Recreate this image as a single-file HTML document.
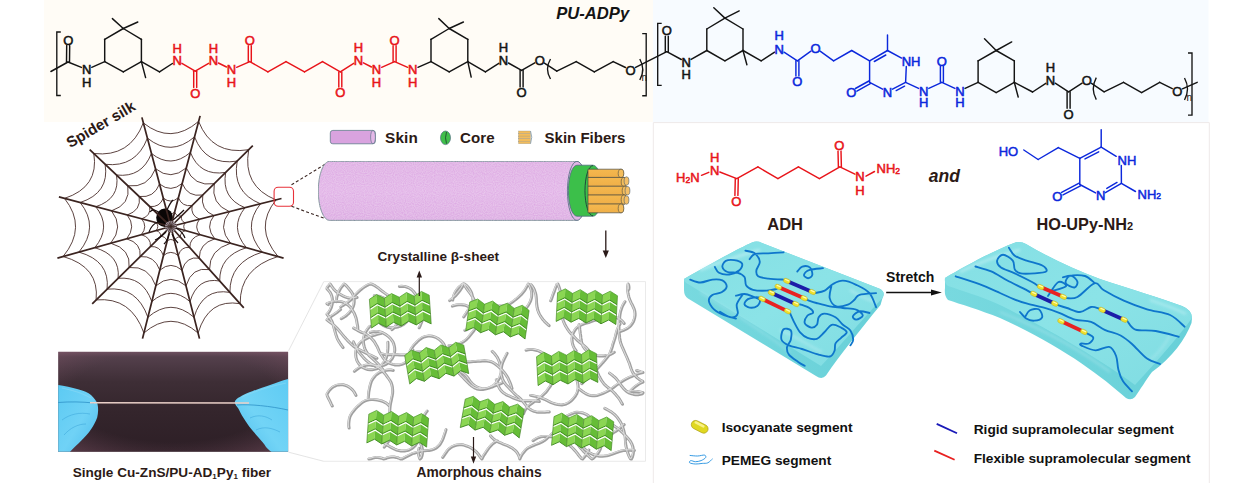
<!DOCTYPE html>
<html><head><meta charset="utf-8"><style>
html,body{margin:0;padding:0;background:#fff;}
body{width:1256px;height:483px;overflow:hidden;position:relative;}
svg{position:absolute;left:0;top:0;font-family:"Liberation Sans", sans-serif;}
</style></head><body>
<svg width="1256" height="483" viewBox="0 0 1256 483">
<rect x="0" y="0" width="1256" height="483" fill="#ffffff"/>
<rect x="44" y="0" width="609" height="122" fill="#fffcf6"/>
<rect x="653" y="0" width="555.5" height="122" fill="#f7fbff"/>
<path d="M653.3,483 V122.6 H1209.3 V483" fill="none" stroke="#eee9e9" stroke-width="1"/>
<path d="M60.8,32 H56.8 V95.5 H60.8" fill="none" stroke="#141414" stroke-width="1.35"/>
<line x1="104.7" y1="61.6" x2="104.7" y2="39.3" stroke="#141414" stroke-width="1.45" stroke-linecap="round" />
<line x1="104.7" y1="39.3" x2="123.3" y2="28.5" stroke="#141414" stroke-width="1.45" stroke-linecap="round" />
<line x1="123.3" y1="28.5" x2="141.4" y2="39.3" stroke="#141414" stroke-width="1.45" stroke-linecap="round" />
<line x1="141.4" y1="39.3" x2="141.4" y2="61.6" stroke="#141414" stroke-width="1.45" stroke-linecap="round" />
<line x1="141.4" y1="61.6" x2="123.3" y2="71.9" stroke="#141414" stroke-width="1.45" stroke-linecap="round" />
<line x1="123.3" y1="71.9" x2="104.7" y2="61.6" stroke="#141414" stroke-width="1.45" stroke-linecap="round" />
<line x1="431" y1="61.6" x2="431" y2="39.3" stroke="#141414" stroke-width="1.45" stroke-linecap="round" />
<line x1="431" y1="39.3" x2="449.2" y2="28.5" stroke="#141414" stroke-width="1.45" stroke-linecap="round" />
<line x1="449.2" y1="28.5" x2="467.8" y2="39.3" stroke="#141414" stroke-width="1.45" stroke-linecap="round" />
<line x1="467.8" y1="39.3" x2="467.8" y2="61.6" stroke="#141414" stroke-width="1.45" stroke-linecap="round" />
<line x1="467.8" y1="61.6" x2="449.2" y2="71.9" stroke="#141414" stroke-width="1.45" stroke-linecap="round" />
<line x1="449.2" y1="71.9" x2="431" y2="61.6" stroke="#141414" stroke-width="1.45" stroke-linecap="round" />
<line x1="706.8" y1="50.5" x2="706.8" y2="29" stroke="#141414" stroke-width="1.45" stroke-linecap="round" />
<line x1="706.8" y1="29" x2="724.9" y2="18.1" stroke="#141414" stroke-width="1.45" stroke-linecap="round" />
<line x1="724.9" y1="18.1" x2="743" y2="29" stroke="#141414" stroke-width="1.45" stroke-linecap="round" />
<line x1="743" y1="29" x2="743" y2="50.5" stroke="#141414" stroke-width="1.45" stroke-linecap="round" />
<line x1="743" y1="50.5" x2="724.9" y2="60.8" stroke="#141414" stroke-width="1.45" stroke-linecap="round" />
<line x1="724.9" y1="60.8" x2="706.8" y2="50.5" stroke="#141414" stroke-width="1.45" stroke-linecap="round" />
<line x1="978.1" y1="82.3" x2="978.1" y2="60.8" stroke="#141414" stroke-width="1.45" stroke-linecap="round" />
<line x1="978.1" y1="60.8" x2="996.2" y2="50.5" stroke="#141414" stroke-width="1.45" stroke-linecap="round" />
<line x1="996.2" y1="50.5" x2="1014.3" y2="60.8" stroke="#141414" stroke-width="1.45" stroke-linecap="round" />
<line x1="1014.3" y1="60.8" x2="1014.3" y2="82.3" stroke="#141414" stroke-width="1.45" stroke-linecap="round" />
<line x1="1014.3" y1="82.3" x2="996.2" y2="92.6" stroke="#141414" stroke-width="1.45" stroke-linecap="round" />
<line x1="996.2" y1="92.6" x2="978.1" y2="82.3" stroke="#141414" stroke-width="1.45" stroke-linecap="round" />
<line x1="50.9" y1="71.5" x2="68" y2="62" stroke="#141414" stroke-width="1.45" stroke-linecap="round" />
<line x1="69.5" y1="62" x2="69.7" y2="45.6" stroke="#141414" stroke-width="1.45" stroke-linecap="round" />
<line x1="66.5" y1="62" x2="66.7" y2="45.6" stroke="#141414" stroke-width="1.45" stroke-linecap="round" />
<line x1="68" y1="62" x2="81.4" y2="67.4" stroke="#141414" stroke-width="1.45" stroke-linecap="round" />
<line x1="91.7" y1="67.3" x2="104.7" y2="61.6" stroke="#141414" stroke-width="1.45" stroke-linecap="round" />
<line x1="123.3" y1="28.5" x2="112.4" y2="18.6" stroke="#141414" stroke-width="1.45" stroke-linecap="round" />
<line x1="123.3" y1="28.5" x2="137.8" y2="22" stroke="#141414" stroke-width="1.45" stroke-linecap="round" />
<line x1="141.4" y1="61.6" x2="145.6" y2="77.6" stroke="#141414" stroke-width="1.45" stroke-linecap="round" />
<line x1="141.4" y1="61.6" x2="159.5" y2="71.9" stroke="#141414" stroke-width="1.45" stroke-linecap="round" />
<line x1="159.5" y1="71.9" x2="172.4" y2="63.5" stroke="#141414" stroke-width="1.45" stroke-linecap="round" />
<line x1="181.9" y1="63.3" x2="195.2" y2="71.2" stroke="#e8141a" stroke-width="1.45" stroke-linecap="round" />
<line x1="193.7" y1="71.2" x2="193.7" y2="87.4" stroke="#e8141a" stroke-width="1.45" stroke-linecap="round" />
<line x1="196.7" y1="71.2" x2="196.7" y2="87.4" stroke="#e8141a" stroke-width="1.45" stroke-linecap="round" />
<line x1="195.2" y1="71.2" x2="208.6" y2="63.3" stroke="#e8141a" stroke-width="1.45" stroke-linecap="round" />
<line x1="218.4" y1="63" x2="226.5" y2="67" stroke="#e8141a" stroke-width="1.45" stroke-linecap="round" />
<line x1="236.6" y1="67.3" x2="249.8" y2="61.6" stroke="#e8141a" stroke-width="1.45" stroke-linecap="round" />
<line x1="251.3" y1="61.6" x2="251.3" y2="45.7" stroke="#e8141a" stroke-width="1.45" stroke-linecap="round" />
<line x1="248.3" y1="61.6" x2="248.3" y2="45.7" stroke="#e8141a" stroke-width="1.45" stroke-linecap="round" />
<line x1="249.8" y1="61.6" x2="267.9" y2="71.9" stroke="#e8141a" stroke-width="1.45" stroke-linecap="round" />
<line x1="267.9" y1="71.9" x2="286" y2="61.6" stroke="#e8141a" stroke-width="1.45" stroke-linecap="round" />
<line x1="286" y1="61.6" x2="304.5" y2="71.9" stroke="#e8141a" stroke-width="1.45" stroke-linecap="round" />
<line x1="304.5" y1="71.9" x2="322.5" y2="61.6" stroke="#e8141a" stroke-width="1.45" stroke-linecap="round" />
<line x1="322.5" y1="61.6" x2="340.3" y2="71.9" stroke="#e8141a" stroke-width="1.45" stroke-linecap="round" />
<line x1="338.8" y1="71.9" x2="338.8" y2="87" stroke="#e8141a" stroke-width="1.45" stroke-linecap="round" />
<line x1="341.8" y1="71.9" x2="341.8" y2="87" stroke="#e8141a" stroke-width="1.45" stroke-linecap="round" />
<line x1="340.3" y1="71.9" x2="353.7" y2="63.3" stroke="#e8141a" stroke-width="1.45" stroke-linecap="round" />
<line x1="363.4" y1="62.8" x2="371.5" y2="67" stroke="#e8141a" stroke-width="1.45" stroke-linecap="round" />
<line x1="381.6" y1="67.3" x2="394.6" y2="61.6" stroke="#e8141a" stroke-width="1.45" stroke-linecap="round" />
<line x1="396.1" y1="61.6" x2="396.1" y2="45.7" stroke="#e8141a" stroke-width="1.45" stroke-linecap="round" />
<line x1="393.1" y1="61.6" x2="393.1" y2="45.7" stroke="#e8141a" stroke-width="1.45" stroke-linecap="round" />
<line x1="394.6" y1="61.6" x2="407.7" y2="67.3" stroke="#e8141a" stroke-width="1.45" stroke-linecap="round" />
<line x1="417.9" y1="67.3" x2="431" y2="61.6" stroke="#141414" stroke-width="1.45" stroke-linecap="round" />
<line x1="449.2" y1="28.5" x2="438.8" y2="18.6" stroke="#141414" stroke-width="1.45" stroke-linecap="round" />
<line x1="449.2" y1="28.5" x2="463.4" y2="22" stroke="#141414" stroke-width="1.45" stroke-linecap="round" />
<line x1="467.8" y1="61.6" x2="471.2" y2="77.1" stroke="#141414" stroke-width="1.45" stroke-linecap="round" />
<line x1="467.8" y1="61.6" x2="485.4" y2="71.9" stroke="#141414" stroke-width="1.45" stroke-linecap="round" />
<line x1="485.4" y1="71.9" x2="498.8" y2="63.3" stroke="#141414" stroke-width="1.45" stroke-linecap="round" />
<line x1="508.4" y1="63" x2="521.6" y2="70.4" stroke="#141414" stroke-width="1.45" stroke-linecap="round" />
<line x1="520.1" y1="70.4" x2="520.1" y2="87" stroke="#141414" stroke-width="1.45" stroke-linecap="round" />
<line x1="523.1" y1="70.4" x2="523.1" y2="87" stroke="#141414" stroke-width="1.45" stroke-linecap="round" />
<line x1="521.6" y1="70.4" x2="534.8" y2="62.8" stroke="#141414" stroke-width="1.45" stroke-linecap="round" />
<line x1="544.4" y1="63.1" x2="556.8" y2="71.2" stroke="#141414" stroke-width="1.45" stroke-linecap="round" />
<line x1="556.8" y1="71.2" x2="576.2" y2="61.6" stroke="#141414" stroke-width="1.45" stroke-linecap="round" />
<line x1="576.2" y1="61.6" x2="594.3" y2="71.9" stroke="#141414" stroke-width="1.45" stroke-linecap="round" />
<line x1="594.3" y1="71.9" x2="613.2" y2="61.6" stroke="#141414" stroke-width="1.45" stroke-linecap="round" />
<line x1="613.2" y1="61.6" x2="625.5" y2="67.5" stroke="#141414" stroke-width="1.45" stroke-linecap="round" />
<line x1="635.6" y1="67.4" x2="666.8" y2="51.7" stroke="#141414" stroke-width="1.45" stroke-linecap="round" />
<line x1="668.3" y1="51.7" x2="668.3" y2="36.1" stroke="#141414" stroke-width="1.45" stroke-linecap="round" />
<line x1="665.3" y1="51.7" x2="665.3" y2="36.1" stroke="#141414" stroke-width="1.45" stroke-linecap="round" />
<line x1="666.8" y1="51.7" x2="681.3" y2="59.5" stroke="#141414" stroke-width="1.45" stroke-linecap="round" />
<line x1="691.1" y1="59.4" x2="706.8" y2="50.5" stroke="#141414" stroke-width="1.45" stroke-linecap="round" />
<line x1="724.9" y1="18.1" x2="713.8" y2="7.8" stroke="#141414" stroke-width="1.45" stroke-linecap="round" />
<line x1="724.9" y1="18.1" x2="739.2" y2="10.9" stroke="#141414" stroke-width="1.45" stroke-linecap="round" />
<line x1="743" y1="50.5" x2="746.9" y2="64.7" stroke="#141414" stroke-width="1.45" stroke-linecap="round" />
<line x1="743" y1="50.5" x2="761.2" y2="60.8" stroke="#141414" stroke-width="1.45" stroke-linecap="round" />
<line x1="761.2" y1="60.8" x2="774.6" y2="52.2" stroke="#141414" stroke-width="1.45" stroke-linecap="round" />
<line x1="784" y1="52.2" x2="797.4" y2="60.8" stroke="#0c28dc" stroke-width="1.45" stroke-linecap="round" />
<line x1="795.9" y1="60.8" x2="795.9" y2="75.9" stroke="#0c28dc" stroke-width="1.45" stroke-linecap="round" />
<line x1="798.9" y1="60.8" x2="798.9" y2="75.9" stroke="#0c28dc" stroke-width="1.45" stroke-linecap="round" />
<line x1="797.4" y1="60.8" x2="810.9" y2="51.2" stroke="#0c28dc" stroke-width="1.45" stroke-linecap="round" />
<line x1="820.1" y1="51.2" x2="833.6" y2="60.8" stroke="#0c28dc" stroke-width="1.45" stroke-linecap="round" />
<line x1="833.6" y1="60.8" x2="851.7" y2="50.5" stroke="#0c28dc" stroke-width="1.45" stroke-linecap="round" />
<line x1="851.7" y1="50.5" x2="869.6" y2="60.8" stroke="#0c28dc" stroke-width="1.45" stroke-linecap="round" />
<line x1="869.6" y1="60.8" x2="887.5" y2="50.5" stroke="#0c28dc" stroke-width="1.45" stroke-linecap="round" />
<line x1="874.3" y1="61.5" x2="885.8" y2="55" stroke="#0c28dc" stroke-width="1.45" stroke-linecap="round" />
<line x1="887.5" y1="50.5" x2="887.5" y2="34.9" stroke="#0c28dc" stroke-width="1.45" stroke-linecap="round" />
<line x1="887.5" y1="50.5" x2="901.6" y2="58.1" stroke="#0c28dc" stroke-width="1.45" stroke-linecap="round" />
<line x1="906.3" y1="66.4" x2="905.6" y2="82.3" stroke="#0c28dc" stroke-width="1.45" stroke-linecap="round" />
<line x1="905.6" y1="82.3" x2="892.5" y2="89.2" stroke="#0c28dc" stroke-width="1.45" stroke-linecap="round" />
<line x1="904.6" y1="86.2" x2="896.2" y2="90.6" stroke="#0c28dc" stroke-width="1.45" stroke-linecap="round" />
<line x1="882.6" y1="89.2" x2="869.6" y2="82.3" stroke="#0c28dc" stroke-width="1.45" stroke-linecap="round" />
<line x1="869.6" y1="82.3" x2="869.6" y2="60.8" stroke="#0c28dc" stroke-width="1.45" stroke-linecap="round" />
<line x1="868.9" y1="81" x2="855.4" y2="88.5" stroke="#0c28dc" stroke-width="1.45" stroke-linecap="round" />
<line x1="870.3" y1="83.6" x2="856.9" y2="91.2" stroke="#0c28dc" stroke-width="1.45" stroke-linecap="round" />
<line x1="905.6" y1="82.3" x2="918.6" y2="88.4" stroke="#0c28dc" stroke-width="1.45" stroke-linecap="round" />
<line x1="928.8" y1="88.4" x2="941.9" y2="82.3" stroke="#0c28dc" stroke-width="1.45" stroke-linecap="round" />
<line x1="943.4" y1="82.3" x2="943.4" y2="66.4" stroke="#0c28dc" stroke-width="1.45" stroke-linecap="round" />
<line x1="940.4" y1="82.3" x2="940.4" y2="66.4" stroke="#0c28dc" stroke-width="1.45" stroke-linecap="round" />
<line x1="941.9" y1="82.3" x2="954.9" y2="88.4" stroke="#0c28dc" stroke-width="1.45" stroke-linecap="round" />
<line x1="965.1" y1="88.4" x2="978.1" y2="82.3" stroke="#141414" stroke-width="1.45" stroke-linecap="round" />
<line x1="996.2" y1="50.5" x2="984.5" y2="38.8" stroke="#141414" stroke-width="1.45" stroke-linecap="round" />
<line x1="996.2" y1="50.5" x2="1011.7" y2="41.9" stroke="#141414" stroke-width="1.45" stroke-linecap="round" />
<line x1="1014.3" y1="82.3" x2="1018.2" y2="97" stroke="#141414" stroke-width="1.45" stroke-linecap="round" />
<line x1="1014.3" y1="82.3" x2="1032.6" y2="92" stroke="#141414" stroke-width="1.45" stroke-linecap="round" />
<line x1="1032.6" y1="92" x2="1045.8" y2="83.3" stroke="#141414" stroke-width="1.45" stroke-linecap="round" />
<line x1="1055.2" y1="83.2" x2="1068.6" y2="91.8" stroke="#141414" stroke-width="1.45" stroke-linecap="round" />
<line x1="1067.1" y1="91.8" x2="1067.1" y2="108.2" stroke="#141414" stroke-width="1.45" stroke-linecap="round" />
<line x1="1070.1" y1="91.8" x2="1070.1" y2="108.2" stroke="#141414" stroke-width="1.45" stroke-linecap="round" />
<line x1="1068.6" y1="91.8" x2="1082.1" y2="83.2" stroke="#141414" stroke-width="1.45" stroke-linecap="round" />
<line x1="1091.5" y1="83.3" x2="1104.1" y2="91.8" stroke="#141414" stroke-width="1.45" stroke-linecap="round" />
<line x1="1104.1" y1="91.8" x2="1123.5" y2="82.3" stroke="#141414" stroke-width="1.45" stroke-linecap="round" />
<line x1="1123.5" y1="82.3" x2="1141.6" y2="92.6" stroke="#141414" stroke-width="1.45" stroke-linecap="round" />
<line x1="1141.6" y1="92.6" x2="1159.7" y2="82.3" stroke="#141414" stroke-width="1.45" stroke-linecap="round" />
<line x1="1159.7" y1="82.3" x2="1172.3" y2="88.6" stroke="#141414" stroke-width="1.45" stroke-linecap="round" />
<line x1="1182.4" y1="88.8" x2="1197.2" y2="82.3" stroke="#141414" stroke-width="1.45" stroke-linecap="round" />
<text x="68.3" y="44.7" font-size="13" fill="#141414" font-weight="normal" font-style="normal" text-anchor="middle" stroke="#141414" stroke-width="0.55">O</text>
<text x="86.6" y="74.2" font-size="13" fill="#141414" font-weight="normal" font-style="normal" text-anchor="middle" stroke="#141414" stroke-width="0.55">N</text>
<text x="86.6" y="86.7" font-size="13" fill="#141414" font-weight="normal" font-style="normal" text-anchor="middle" stroke="#141414" stroke-width="0.55">H</text>
<text x="177.1" y="65.2" font-size="13" fill="#e8141a" font-weight="normal" font-style="normal" text-anchor="middle" stroke="#e8141a" stroke-width="0.55">N</text>
<text x="177.1" y="52.6" font-size="13" fill="#e8141a" font-weight="normal" font-style="normal" text-anchor="middle" stroke="#e8141a" stroke-width="0.55">H</text>
<text x="195.2" y="97.7" font-size="13" fill="#e8141a" font-weight="normal" font-style="normal" text-anchor="middle" stroke="#e8141a" stroke-width="0.55">O</text>
<text x="213.4" y="65.2" font-size="13" fill="#e8141a" font-weight="normal" font-style="normal" text-anchor="middle" stroke="#e8141a" stroke-width="0.55">N</text>
<text x="213.4" y="52.6" font-size="13" fill="#e8141a" font-weight="normal" font-style="normal" text-anchor="middle" stroke="#e8141a" stroke-width="0.55">H</text>
<text x="231.5" y="74.2" font-size="13" fill="#e8141a" font-weight="normal" font-style="normal" text-anchor="middle" stroke="#e8141a" stroke-width="0.55">N</text>
<text x="231.5" y="86.7" font-size="13" fill="#e8141a" font-weight="normal" font-style="normal" text-anchor="middle" stroke="#e8141a" stroke-width="0.55">H</text>
<text x="249.8" y="44.8" font-size="13" fill="#e8141a" font-weight="normal" font-style="normal" text-anchor="middle" stroke="#e8141a" stroke-width="0.55">O</text>
<text x="340.3" y="97.3" font-size="13" fill="#e8141a" font-weight="normal" font-style="normal" text-anchor="middle" stroke="#e8141a" stroke-width="0.55">O</text>
<text x="358.4" y="65" font-size="13" fill="#e8141a" font-weight="normal" font-style="normal" text-anchor="middle" stroke="#e8141a" stroke-width="0.55">N</text>
<text x="358.4" y="52.2" font-size="13" fill="#e8141a" font-weight="normal" font-style="normal" text-anchor="middle" stroke="#e8141a" stroke-width="0.55">H</text>
<text x="376.5" y="74.2" font-size="13" fill="#e8141a" font-weight="normal" font-style="normal" text-anchor="middle" stroke="#e8141a" stroke-width="0.55">N</text>
<text x="376.5" y="86.5" font-size="13" fill="#e8141a" font-weight="normal" font-style="normal" text-anchor="middle" stroke="#e8141a" stroke-width="0.55">H</text>
<text x="394.6" y="44.8" font-size="13" fill="#e8141a" font-weight="normal" font-style="normal" text-anchor="middle" stroke="#e8141a" stroke-width="0.55">O</text>
<text x="412.8" y="74.2" font-size="13" fill="#e8141a" font-weight="normal" font-style="normal" text-anchor="middle" stroke="#e8141a" stroke-width="0.55">N</text>
<text x="412.8" y="86.5" font-size="13" fill="#e8141a" font-weight="normal" font-style="normal" text-anchor="middle" stroke="#e8141a" stroke-width="0.55">H</text>
<text x="503.5" y="65" font-size="13" fill="#141414" font-weight="normal" font-style="normal" text-anchor="middle" stroke="#141414" stroke-width="0.55">N</text>
<text x="503.5" y="52" font-size="13" fill="#141414" font-weight="normal" font-style="normal" text-anchor="middle" stroke="#141414" stroke-width="0.55">H</text>
<text x="521.6" y="97.3" font-size="13" fill="#141414" font-weight="normal" font-style="normal" text-anchor="middle" stroke="#141414" stroke-width="0.55">O</text>
<text x="539.7" y="64.7" font-size="13" fill="#141414" font-weight="normal" font-style="normal" text-anchor="middle" stroke="#141414" stroke-width="0.55">O</text>
<text x="630.6" y="74.6" font-size="13" fill="#141414" font-weight="normal" font-style="normal" text-anchor="middle" stroke="#141414" stroke-width="0.55">O</text>
<text x="666.8" y="35.2" font-size="13" fill="#141414" font-weight="normal" font-style="normal" text-anchor="middle" stroke="#141414" stroke-width="0.55">O</text>
<text x="686.2" y="66.8" font-size="13" fill="#141414" font-weight="normal" font-style="normal" text-anchor="middle" stroke="#141414" stroke-width="0.55">N</text>
<text x="686.2" y="78.6" font-size="13" fill="#141414" font-weight="normal" font-style="normal" text-anchor="middle" stroke="#141414" stroke-width="0.55">H</text>
<text x="779.3" y="53.9" font-size="13" fill="#0c28dc" font-weight="normal" font-style="normal" text-anchor="middle" stroke="#0c28dc" stroke-width="0.55">N</text>
<text x="779.3" y="40.3" font-size="13" fill="#0c28dc" font-weight="normal" font-style="normal" text-anchor="middle" stroke="#0c28dc" stroke-width="0.55">H</text>
<text x="797.4" y="86.2" font-size="13" fill="#0c28dc" font-weight="normal" font-style="normal" text-anchor="middle" stroke="#0c28dc" stroke-width="0.55">O</text>
<text x="815.5" y="52.6" font-size="13" fill="#0c28dc" font-weight="normal" font-style="normal" text-anchor="middle" stroke="#0c28dc" stroke-width="0.55">O</text>
<text x="906.5" y="65.5" font-size="13" fill="#0c28dc" font-weight="normal" font-style="normal" text-anchor="middle" stroke="#0c28dc" stroke-width="0.55">N</text>
<text x="887.5" y="96.5" font-size="13" fill="#0c28dc" font-weight="normal" font-style="normal" text-anchor="middle" stroke="#0c28dc" stroke-width="0.55">N</text>
<text x="851.3" y="97.3" font-size="13" fill="#0c28dc" font-weight="normal" font-style="normal" text-anchor="middle" stroke="#0c28dc" stroke-width="0.55">O</text>
<text x="923.7" y="95.5" font-size="13" fill="#0c28dc" font-weight="normal" font-style="normal" text-anchor="middle" stroke="#0c28dc" stroke-width="0.55">N</text>
<text x="923.7" y="107.3" font-size="13" fill="#0c28dc" font-weight="normal" font-style="normal" text-anchor="middle" stroke="#0c28dc" stroke-width="0.55">H</text>
<text x="941.9" y="65.5" font-size="13" fill="#0c28dc" font-weight="normal" font-style="normal" text-anchor="middle" stroke="#0c28dc" stroke-width="0.55">O</text>
<text x="960" y="95.5" font-size="13" fill="#0c28dc" font-weight="normal" font-style="normal" text-anchor="middle" stroke="#0c28dc" stroke-width="0.55">N</text>
<text x="960" y="107.3" font-size="13" fill="#0c28dc" font-weight="normal" font-style="normal" text-anchor="middle" stroke="#0c28dc" stroke-width="0.55">H</text>
<text x="1050.5" y="84.9" font-size="13" fill="#141414" font-weight="normal" font-style="normal" text-anchor="middle" stroke="#141414" stroke-width="0.55">N</text>
<text x="1050.5" y="72.2" font-size="13" fill="#141414" font-weight="normal" font-style="normal" text-anchor="middle" stroke="#141414" stroke-width="0.55">H</text>
<text x="1068.6" y="118.5" font-size="13" fill="#141414" font-weight="normal" font-style="normal" text-anchor="middle" stroke="#141414" stroke-width="0.55">O</text>
<text x="1086.8" y="84.9" font-size="13" fill="#141414" font-weight="normal" font-style="normal" text-anchor="middle" stroke="#141414" stroke-width="0.55">O</text>
<text x="1177.3" y="95.8" font-size="13" fill="#141414" font-weight="normal" font-style="normal" text-anchor="middle" stroke="#141414" stroke-width="0.55">O</text>
<text x="915.8" y="65.5" font-size="13" fill="#0c28dc" font-weight="normal" font-style="normal" text-anchor="middle" stroke="#0c28dc" stroke-width="0.55">H</text>
<path d="M550.5,59 Q544.5,69 550.5,79" fill="none" stroke="#141414" stroke-width="1.35"/>
<path d="M639.8,59 Q645.8,69.5 639.8,80" fill="none" stroke="#141414" stroke-width="1.35"/>
<text x="644.3" y="80.5" font-size="10" fill="#141414" font-weight="normal" font-style="normal" text-anchor="middle" >n</text>
<path d="M642.2,33.6 H646.2 V95.7 H642.2" fill="none" stroke="#141414" stroke-width="1.35"/>
<path d="M661.7,23.3 H657.7 V85.4 H661.7" fill="none" stroke="#141414" stroke-width="1.35"/>
<path d="M1096.3,77.6 Q1090.3,88.6 1096.3,99.6" fill="none" stroke="#141414" stroke-width="1.35"/>
<path d="M1184.5,78 Q1190.5,89 1184.5,100" fill="none" stroke="#141414" stroke-width="1.35"/>
<text x="1189.3" y="101" font-size="10" fill="#141414" font-weight="normal" font-style="normal" text-anchor="middle" >n</text>
<path d="M1188,53 H1192 V115.1 H1188" fill="none" stroke="#141414" stroke-width="1.35"/>
<text x="556.3" y="19.2" font-size="16.6" fill="#141414" font-weight="bold" font-style="italic" text-anchor="start" >PU-ADPy</text>
<path d="M167,212.3 Q170.8,215.4 174.6,212.1 M163.3,198.1 Q170.8,204.2 178.4,197.7 M159.5,184 Q170.9,193.1 182.2,183.4 M155.5,168.7 Q170.9,181.1 186.3,167.9 M151.4,153.4 Q170.9,169.1 190.4,152.4 M147.4,138.1 Q170.9,157.1 194.5,136.9 M143.3,122.9 Q170.9,145.1 198.6,121.4 M174.6,212.1 Q176.4,216.8 181.5,216 M178.4,197.7 Q182.1,207.1 192.1,205.5 M182.2,183.4 Q187.7,197.4 202.8,195 M186.3,167.9 Q193.8,186.9 214.3,183.7 M190.4,152.4 Q199.9,176.5 225.7,172.4 M194.5,136.9 Q206,166 237.2,161.1 M198.6,121.4 Q212,155.6 248.7,149.7 M181.5,216 Q180.6,221 185.2,222.9 M192.1,205.5 Q190.3,215.5 199.6,219.2 M202.8,195 Q200.1,210 214,215.6 M214.3,183.7 Q210.6,204 229.5,211.7 M225.7,172.4 Q221.2,198.1 245,207.7 M237.2,161.1 Q231.7,192.1 260.5,203.8 M248.7,149.7 Q242.2,186.2 276,199.9 M185.2,222.9 Q182.1,226.7 185.5,230.6 M199.6,219.2 Q193.5,226.9 200.1,234.7 M214,215.6 Q204.8,227 214.8,238.8 M229.5,211.7 Q217,227.2 230.6,243.2 M245,207.7 Q229.2,227.4 246.4,247.7 M260.5,203.8 Q241.4,227.6 262.2,252.1 M276,199.9 Q253.6,227.8 278,256.5 M185.5,230.6 Q180.2,232.2 180.3,237.1 M200.1,234.7 Q189.6,237.9 189.8,247.6 M214.8,238.8 Q199.1,243.7 199.3,258.2 M230.6,243.2 Q209.2,249.8 209.5,269.6 M246.4,247.7 Q219.3,256 219.7,281 M262.2,252.1 Q229.5,262.2 229.9,292.4 M278,256.5 Q239.6,268.3 240.2,303.7 M180.3,237.1 Q176,236.3 174.5,241.1 M189.8,247.6 Q181.1,246.1 178.3,255.6 M199.3,258.2 Q186.3,255.9 182,270.2 M209.5,269.6 Q191.8,266.5 186,285.9 M219.7,281 Q197.4,277 190,301.6 M229.9,292.4 Q202.9,287.6 194,317.3 M240.2,303.7 Q208.5,298.2 198.1,333 M174.5,241.1 Q170.8,237.9 167.1,241.1 M178.3,255.6 Q170.8,249.2 163.4,255.6 M182,270.2 Q170.9,260.6 159.8,270.2 M186,285.9 Q170.9,272.8 155.8,285.9 M190,301.6 Q170.9,285.1 151.8,301.6 M194,317.3 Q170.9,297.3 147.9,317.3 M198.1,333 Q170.9,309.6 143.9,333 M167.1,241.1 Q165.4,236.1 160.6,236.5 M163.4,255.6 Q160,245.7 150.4,246.6 M159.8,270.2 Q154.5,255.3 140.1,256.6 M155.8,285.9 Q148.7,265.6 129.1,267.5 M151.8,301.6 Q142.9,276 118.1,278.3 M147.9,317.3 Q137,286.3 107.1,289.1 M143.9,333 Q131.2,296.7 96.1,299.9 M160.6,236.5 Q161.1,232 156.1,230.6 M150.4,246.6 Q151.3,237.5 141.3,234.7 M140.1,256.6 Q141.6,243.1 126.6,238.8 M129.1,267.5 Q131.1,249 110.7,243.2 M118.1,278.3 Q120.6,255 94.8,247.7 M107.1,289.1 Q110.1,260.9 78.9,252.1 M96.1,299.9 Q99.7,266.8 63.1,256.5 M156.1,230.6 Q159.4,226.6 156.3,222.7 M141.3,234.7 Q148,226.7 141.7,218.8 M126.6,238.8 Q136.5,226.8 127.2,215 M110.7,243.2 Q124.2,226.9 111.5,210.8 M94.8,247.7 Q111.9,227 95.8,206.7 M78.9,252.1 Q99.6,227.1 80.2,202.5 M63.1,256.5 Q87.3,227.2 64.5,198.4 M156.3,222.7 Q161,221.1 160.3,216.5 M141.7,218.8 Q151.2,215.7 149.7,206.5 M127.2,215 Q141.4,210.3 139.2,196.5 M111.5,210.8 Q130.9,204.5 127.8,185.8 M95.8,206.7 Q120.4,198.7 116.5,175 M80.2,202.5 Q109.8,192.9 105.1,164.3 M64.5,198.4 Q99.3,187.1 93.8,153.5 M160.3,216.5 Q165.2,217.1 167,212.3 M149.7,206.5 Q159.6,207.6 163.3,198.1 M139.2,196.5 Q154.1,198.2 159.5,184 M127.8,185.8 Q148.1,188.1 155.5,168.7 M116.5,175 Q142.1,177.9 151.4,153.4 M105.1,164.3 Q136.1,167.8 147.4,138.1 M93.8,153.5 Q130,157.6 143.3,122.9" fill="none" stroke="#4a2e2a" stroke-width="0.9"/>
<ellipse cx="164.6" cy="217.8" rx="8.4" ry="9.2" fill="#0a0606"/>
<path d="M170.8,226.5 L141.9,117.4 M170.8,226.5 L200.1,115.9 M170.8,226.5 L252.8,145.7 M170.8,226.5 L281.5,198.5 M170.8,226.5 L283.6,258.1 M170.8,226.5 L243.8,307.8 M170.8,226.5 L199.5,338.6 M170.8,226.5 L142.5,338.6 M170.8,226.5 L92.2,303.8 M170.8,226.5 L57.4,258.1 M170.8,226.5 L58.9,196.9 M170.8,226.5 L89.7,149.7" fill="none" stroke="#3b2420" stroke-width="1.75"/>
<circle cx="170.8" cy="226.5" r="5.8" fill="#a89ca6"/>
<path d="M170.8,226.5 L176.8,226.5 M170.8,226.5 L176.3,228.8 M170.8,226.5 L175,230.7 M170.8,226.5 L173.1,232 M170.8,226.5 L170.8,232.5 M170.8,226.5 L168.5,232 M170.8,226.5 L166.6,230.7 M170.8,226.5 L165.3,228.8 M170.8,226.5 L164.8,226.5 M170.8,226.5 L165.3,224.2 M170.8,226.5 L166.6,222.3 M170.8,226.5 L168.5,221 M170.8,226.5 L170.8,220.5 M170.8,226.5 L173.1,221 M170.8,226.5 L175,222.3 M170.8,226.5 L176.3,224.2" fill="none" stroke="#3a2622" stroke-width="0.8"/>
<path d="M160,214 Q154,207 150,212 M158,222 Q152,224 149,232 M166,232 Q160,238 155,240 M173,220 Q180,214 184,210 M176,228 Q183,232 185,238 M172,234 Q175,240 178,243 M167,210 Q170,203 173,200 M169,234 Q168,240 164,244" fill="none" stroke="#1a0e0e" stroke-width="1.2"/>
<text x="70.3" y="148.3" font-size="15.2" font-weight="bold" fill="#2c1a16" transform="rotate(-30.5 70.3 148.3)">Spider silk</text>
<rect x="274.1" y="187.3" width="19.4" height="19" rx="4" fill="none" stroke="#e8323a" stroke-width="1.1"/>
<path d="M291.5,184.8 L325.4,164.1 M291.5,206.3 L325.4,218.7" fill="none" stroke="#3a2622" stroke-width="1.1" stroke-dasharray="3,2.2"/>
<defs>
<linearGradient id="pinkg" x1="0" y1="0" x2="0" y2="1">
<stop offset="0" stop-color="#da9fe0"/><stop offset="0.5" stop-color="#dea6e4"/><stop offset="1" stop-color="#d89ddf"/></linearGradient>
<linearGradient id="oranges" x1="0" y1="0" x2="0" y2="1">
<stop offset="0" stop-color="#f5b84e"/><stop offset="1" stop-color="#efaf48"/></linearGradient>
<filter id="noise" x="0" y="0" width="100%" height="100%">
<feTurbulence type="fractalNoise" baseFrequency="0.9" numOctaves="1" seed="3" result="n"/>
<feColorMatrix in="n" type="matrix" values="0 0 0 0 1  0 0 0 0 1  0 0 0 0 1  0 0 0 0.4 0" result="w"/>
<feComposite in="w" in2="SourceGraphic" operator="in" result="wn"/>
<feMerge><feMergeNode in="SourceGraphic"/><feMergeNode in="wn"/></feMerge>
</filter>
</defs>
<path d="M329.6,161.3 L576.5,161.3 A10,29.5 0 0 1 576.5,220.4 L329.6,220.4 A11.3,29.5 0 0 1 329.6,161.3 Z" fill="url(#pinkg)" stroke="#4d6f7c" stroke-width="0.9" filter="url(#noise)"/>
<ellipse cx="577" cy="190.9" rx="9.6" ry="29.5" fill="#e2b4e6" stroke="#4d6f7c" stroke-width="0.8"/>
<path d="M577,165.2 L593,165.2 A9,25.5 0 0 1 593,216.2 L577,216.2 A8.6,25.5 0 0 1 577,165.2 Z" fill="#3cbf4a" stroke="#4d6f7c" stroke-width="0.8"/>
<path d="M593,165.6 A8,25 0 0 0 593,215.8" fill="none" stroke="#1e4a3a" stroke-width="1"/>
<path d="M588,169.2 L621,169.2 A2.6,4.2 0 0 1 621,177.6 L588,177.6 Z" fill="url(#oranges)" stroke="#4a4a40" stroke-width="0.7"/>
<ellipse cx="621" cy="173.4" rx="2.8" ry="4.2" fill="#f4bd5c" stroke="#4a4a40" stroke-width="0.6"/>
<path d="M588,177.4 L624,177.4 A2.6,4.5 0 0 1 624,186.4 L588,186.4 Z" fill="url(#oranges)" stroke="#4a4a40" stroke-width="0.7"/>
<ellipse cx="624" cy="181.9" rx="2.8" ry="4.5" fill="#f4bd5c" stroke="#4a4a40" stroke-width="0.6"/>
<path d="M588,186.2 L625,186.2 A2.6,4.5 0 0 1 625,195.2 L588,195.2 Z" fill="url(#oranges)" stroke="#4a4a40" stroke-width="0.7"/>
<ellipse cx="625" cy="190.7" rx="2.8" ry="4.5" fill="#f4bd5c" stroke="#4a4a40" stroke-width="0.6"/>
<path d="M588,195 L624,195 A2.6,4.6 0 0 1 624,204.2 L588,204.2 Z" fill="url(#oranges)" stroke="#4a4a40" stroke-width="0.7"/>
<ellipse cx="624" cy="199.6" rx="2.8" ry="4.6" fill="#f4bd5c" stroke="#4a4a40" stroke-width="0.6"/>
<path d="M588,204 L621,204 A2.6,4.4 0 0 1 621,212.8 L588,212.8 Z" fill="url(#oranges)" stroke="#4a4a40" stroke-width="0.7"/>
<ellipse cx="621" cy="208.4" rx="2.8" ry="4.4" fill="#f4bd5c" stroke="#4a4a40" stroke-width="0.6"/>
<ellipse cx="626.5" cy="181" rx="2.4" ry="4.2" fill="#f4c068" stroke="#4a5a6a" stroke-width="0.6"/>
<ellipse cx="627.5" cy="190.7" rx="2.4" ry="4.2" fill="#f4c068" stroke="#4a5a6a" stroke-width="0.6"/>
<ellipse cx="626.5" cy="200" rx="2.4" ry="4.2" fill="#f4c068" stroke="#4a5a6a" stroke-width="0.6"/>
<rect x="330.3" y="130.4" width="45" height="13.4" rx="2.5" fill="#d9a3df" stroke="#4d6f7c" stroke-width="0.7"/>
<ellipse cx="373" cy="137.1" rx="2.4" ry="6.7" fill="#e4b8e8" stroke="#4d6f7c" stroke-width="0.6"/>
<text x="385" y="143" font-size="15.3" fill="#2c1a16" font-weight="bold" font-style="normal" text-anchor="start" letter-spacing="0.2">Skin</text>
<ellipse cx="445.5" cy="137.8" rx="5" ry="6.8" fill="#3fbf4a" stroke="#4d6f7c" stroke-width="0.7"/>
<path d="M446.5,132 Q444.5,137.8 446.5,143.6" fill="none" stroke="#1e4a30" stroke-width="0.9"/>
<text x="460" y="143" font-size="15.1" fill="#2c1a16" font-weight="bold" font-style="normal" text-anchor="start" letter-spacing="0.1">Core</text>
<rect x="518.5" y="131" width="12" height="2.5" fill="#f3bc5c" stroke="#8a8a7a" stroke-width="0.3"/>
<rect x="518.5" y="133.6" width="12" height="2.5" fill="#f3bc5c" stroke="#8a8a7a" stroke-width="0.3"/>
<rect x="518.5" y="136.1" width="12" height="2.5" fill="#f3bc5c" stroke="#8a8a7a" stroke-width="0.3"/>
<rect x="518.5" y="138.7" width="12" height="2.5" fill="#f3bc5c" stroke="#8a8a7a" stroke-width="0.3"/>
<rect x="518.5" y="141.2" width="12" height="2.5" fill="#f3bc5c" stroke="#8a8a7a" stroke-width="0.3"/>
<path d="M530.5,131 Q533,137 530.5,143.8" fill="none" stroke="#8aa0b0" stroke-width="0.9"/>
<text x="544.6" y="143" font-size="15" fill="#2c1a16" font-weight="bold" font-style="normal" text-anchor="start" >Skin Fibers</text>
<line x1="605.8" y1="230.4" x2="605.8" y2="252" stroke="#2a1a18" stroke-width="1.3"/>
<path d="M602.7,250.5 L605.8,258 L608.9,250.5 Z" fill="#2a1a18"/>
<defs>
<linearGradient id="photog" x1="0" y1="0" x2="0" y2="1">
<stop offset="0" stop-color="#6e5060"/><stop offset="0.05" stop-color="#54404c"/><stop offset="0.3" stop-color="#3e2e36"/><stop offset="0.6" stop-color="#34252c"/><stop offset="1" stop-color="#2d1f26"/></linearGradient>
<radialGradient id="photor" cx="0.5" cy="0.45" r="0.75"><stop offset="0" stop-color="#2a2a30" stop-opacity="0.0"/><stop offset="0.6" stop-color="#6a4858" stop-opacity="0.0"/><stop offset="1" stop-color="#8a5a6e" stop-opacity="0.55"/></radialGradient>
<linearGradient id="gloveL" x1="0" y1="0" x2="1" y2="1"><stop offset="0" stop-color="#5ccaf3"/><stop offset="0.55" stop-color="#70d2f6"/><stop offset="1" stop-color="#4cbcec"/></linearGradient>
<linearGradient id="gloveR" x1="1" y1="0" x2="0" y2="1"><stop offset="0" stop-color="#5ecbf3"/><stop offset="0.55" stop-color="#72d4f6"/><stop offset="1" stop-color="#4cbcec"/></linearGradient>
</defs>
<rect x="58.2" y="351.8" width="229.9" height="100" fill="url(#photog)"/>
<rect x="58.2" y="351.8" width="229.9" height="100" fill="url(#photor)"/>
<path d="M58.2,385 C64,385.6 72,387.5 78,389.3 C84,391 88,392.5 91,395 C94,398 96.5,401 97.5,404 C98.5,408 98.3,413 97.2,417.5 C95.5,422 93.5,425.5 91.9,428 C88,434 84,438 81.4,440.5 C77,445 73,448.5 70,451.8 L58.2,451.8 Z" fill="url(#gloveL)"/>
<path d="M58.2,402.5 C70,401.5 82,401.8 94,403" fill="none" stroke="#2e92c8" stroke-width="1" opacity="0.8"/>
<path d="M62,388 C72,390 84,394 91,398" fill="none" stroke="#8ad8f5" stroke-width="1.2" opacity="0.6"/>
<path d="M62,420 C70,414 80,412 90,414 M64,435 C70,428 78,424 86,424" fill="none" stroke="#3ba6da" stroke-width="0.9" opacity="0.6"/>
<path d="M288.1,379 C282,380.5 276,382.8 271.5,384.5 C264,387 258,389 252.9,391.1 C248,393 244,394.5 241.8,395.7 C239,397.3 237,398.5 236.2,399.4 C234.5,401 234.6,402.8 235.2,404.1 C236.5,406.5 238,408 239,409.7 C240,412 241,413.5 241.8,415.3 C244,419 246.5,422.8 249.2,426.4 C252.5,430.5 255.5,434 258.5,437.6 C261.5,441 264,444 266,446.9 C268,449 269.5,450.5 271.5,451.8 L288.1,451.8 Z" fill="url(#gloveR)"/>
<path d="M237,405 C250,404 270,406 288,410" fill="none" stroke="#2e92c8" stroke-width="1" opacity="0.8"/>
<path d="M242,397 C255,391 272,386 286,383" fill="none" stroke="#8ad8f5" stroke-width="1.2" opacity="0.6"/>
<path d="M250,418 C258,414 266,416 272,420 M256,430 C264,426 272,428 280,432" fill="none" stroke="#3ba6da" stroke-width="0.9" opacity="0.6"/>
<path d="M90,402.8 L249,403" stroke="#ead0c8" stroke-width="1.5"/>
<path d="M288.6,350.7 L323.8,281.6 M288.6,452.2 L323.8,461.3" fill="none" stroke="#d8d8d8" stroke-width="0.7"/>
<text x="171.9" y="477.3" font-size="13.6" fill="#2c1a16" font-weight="bold" font-style="normal" text-anchor="middle" >Single Cu-ZnS/PU-AD<tspan font-size="8" dy="1.2">1</tspan><tspan dy="-1.2">Py</tspan><tspan font-size="8" dy="1.2">1</tspan><tspan dy="-1.2"> fiber</tspan></text>
<path d="M323.8,281.6 L645.5,281.6 L645.5,461.3 L323.8,461.3" fill="none" stroke="#e4e4e4" stroke-width="0.8"/>
<path d="M523.6,413.6 L524.4,411.5 L525.4,409.6 L526.7,407.8 L528.2,406.2 L529.9,404.8 L531.7,403.5 L533.4,402.2 L535.2,400.9 L537,399.6 L538.8,398.4 L540.6,397.1 L542.3,395.7 L543.9,394.2 L545.5,392.7 L546.9,391 L548.2,389.2 L549.5,387.4 L550.7,385.6 L551.7,383.6 L552.6,381.6 L553.4,379.5 L553.8,377.4 L554.2,375.2 L554.3,373 L554.2,370.8 L554,368.6 L553.7,366.5 L553.1,364.3 L552.2,362.3 L551.1,360.5 L549.7,358.7 L548.2,357.1 L546.6,355.7 L544.8,354.3 L542.9,353.2 L541,352.1 L539,351.1 L537,350.4 L534.8,350 L532.6,349.6 L530.4,349.6 L528.2,349.8 L526.1,350.2 M512,388.5 L511.4,386.4 L510.7,384.3 L509.9,382.3 L509,380.3 L508.1,378.3 L506.9,376.4 L505.7,374.5 L504.4,372.8 L503,371.1 L501.5,369.5 L499.9,367.9 L498.3,366.4 L496.6,365 L494.9,363.7 L493,362.6 L491,361.7 L488.8,361.2 L486.7,360.9 L484.5,360.8 L482.3,360.9 L480.1,361.2 L477.9,361.3 L475.7,361.4 L473.5,361.6 L471.3,361.8 L469.1,361.9 L466.9,362.1 L464.7,362.3 L462.5,362.3 L460.3,362.1 L458.1,361.9 M625,301.7 L623.9,303.6 L622.8,305.5 L621.9,307.5 L621.2,309.6 L620.5,311.7 L620.1,313.9 L619.8,316 L619.6,318.2 L619.3,320.4 L619.2,322.6 L619.1,324.8 L619,327 L619,329.2 L619.1,331.4 L619.2,333.6 L619.5,335.8 L619.7,338 L620,340.1 L620.5,342.3 L621.2,344.4 L622,346.4 L622.9,348.4 L623.8,350.4 L624.7,352.5 L625.6,354.5 L626.5,356.5 L627.4,358.5 L628.2,360.5 L629.1,362.6 L629.8,364.6 L630.5,366.7 L631.2,368.8 L632,370.8 L633,372.8 L634.2,374.6 L635.7,376.3 L637.3,377.8 L639,379.2 L640.8,380.4 L642.8,381.3 L643,382.1 L641,383 L639,384 L637.2,385.2 L635.4,386.5 L633.7,387.9 L632.1,389.4 L630.5,391 L629.1,392.6 M384.3,447.2 L385.7,445.4 L386.9,443.6 L388.2,441.9 L389.5,440.1 L390.8,438.3 L392.2,436.6 L393.8,435.1 L395.5,433.7 L397.5,432.7 L399.5,431.9 L401.7,431.4 L403.9,431.2 L406.1,431.2 L408.2,431.5 L410.3,432.2 L412.3,433.2 L414.1,434.4 L415.8,435.8 L417.2,437.5 L418.4,439.4 L419.5,441.3 L420.5,443.2 L421.3,445.3 L422,447.4 L422.4,449.5 L422.6,451.7 L422.4,453.9 L421.9,456.1 L421.1,458.1 L420,459 L419.2,456.9 L418.7,454.8 L418.5,452.6 L418.6,450.4 L419.1,448.3 M634.5,450.5 L632.3,450.4 L630.1,450.3 L627.9,450.3 L625.7,450.3 L623.5,450.6 L621.4,451 L619.3,451.6 L617.2,452.4 L615.1,453.1 L613.1,453.9 L611,454.6 L608.8,455.2 L606.7,455.7 L604.5,456 L602.3,456.2 L600.1,456.2 L598,455.9 L595.8,455.4 L593.7,454.8 L591.7,453.9 L589.7,452.9 L587.9,451.7 L586.1,450.4 L584.5,448.9 L583.2,447.1 M380,439.4 L381.7,440.9 L383.4,442.3 L385.1,443.6 L386.9,444.9 L388.8,446 L390.7,447.2 L392.6,448.2 L394.6,449.2 L396.6,450 L398.7,450.6 L400.9,451 L403.1,451.1 L405.3,450.9 L407.4,450.5 L409.5,449.8 L411.5,448.7 L413.3,447.5 L414.9,446 L416.2,444.2 L417.3,442.3 L418.1,440.3 L418.8,438.2 L419.4,436 L419.9,433.9 L420.4,431.8 L420.9,429.6 L421.5,427.5 L422,425.4 L422.4,423.2 L422.7,421 L423.1,418.9 L423.8,416.8 L424.7,414.8 L425.8,412.9 L427.2,411.1 M328.3,304.6 L327,303.7 L329.1,302.9 L331.2,302.3 L333.3,301.7 L335.5,301.4 L337.7,301.3 L339.9,301.5 L342,301.9 L344.1,302.6 L346,303.7 L347.9,304.9 L349.5,306.3 L351,307.9 L352.2,309.8 L353.3,311.7 L354.4,313.6 L355.2,315.6 L356,317.7 L356.5,319.8 L356.9,322 L357.3,324.2 L357.7,326.3 L357.8,328.5 L357.9,330.7 M340.6,309.5 L338.9,310.9 L337.2,312.3 L335.4,313.6 L333.6,314.8 L331.7,316 L330,317.3 L328.2,318.6 L327,319.9 L328.8,321.3 L330.5,322.6 L332.3,323.9 L334,325.3 L335.5,326.8 L337.1,328.4 L338.6,330 L340,331.7 L341.4,333.4 L342.8,335.1 L344.2,336.8 L345.7,338.4 L347.2,340.1 L348.7,341.6 L350.3,343.2 L351.8,344.7 L353.5,346.2 L355.3,347.4 L357.2,348.5 L359.1,349.6 L361.1,350.6 L363,351.7 L365,352.6 L367,353.6 L369,354.5 L371,355.4 L373,356.3 L374.9,357.3 L376.9,358.3 M614.3,352.3 L612.4,353.5 L610.5,354.5 L608.4,355.1 L606.2,355.6 L604,355.9 L601.8,356.1 L599.6,356 L597.5,355.7 L595.3,355.1 L593.3,354.4 L591.2,353.5 L589.3,352.6 L587.4,351.4 L585.8,349.9 L584.4,348.2 L583.2,346.4 L582.3,344.3 L581.6,342.2 L581.2,340.1 L580.9,337.9 L580.7,335.7 L580.3,333.5 L580.1,331.4 L579.8,329.2 L579.6,327 L579.1,324.8 M455.3,369.7 L456.9,371.2 L458.5,372.7 L460,374.3 L461.5,375.9 L463.1,377.5 L464.6,379.1 L466.1,380.6 L467.6,382.2 L469.2,383.8 L470.8,385.2 L472.6,386.6 L474.4,387.8 L476.4,388.7 L478.5,389.3 L480.7,389.5 L482.9,389.4 L485.1,389.1 L487.2,388.5 L489.3,387.8 L491.3,386.8 L493.2,385.7 L494.9,384.3 L496.4,382.7 L497.7,380.9 L498.9,379.1 L499.9,377.1 L500.6,375.1 L501.1,372.9 L501.3,370.7 L501.2,368.5 L500.7,366.4 L500.2,364.2 L499.5,362.2 L498.7,360.1 L497.7,358.1 L496.6,356.3 L495.2,354.5 L493.8,352.8 L492.2,351.3 M370,326.3 L368.5,327.9 L367.2,329.7 L366,331.5 L365,333.5 L364.3,335.6 L363.8,337.7 L363.5,339.9 L363.5,342.1 L363.7,344.3 L364.2,346.4 L364.8,348.5 L365.7,350.6 L366.8,352.5 L368.1,354.3 L369.5,355.9 L371.1,357.4 L372.8,358.9 L374.4,360.4 L376,361.9 L377.5,363.4 L379.1,365 L380.5,366.7 L381.9,368.4 L383.2,370.2 L384.4,372 M446,429.8 L445.4,431.9 L444.7,433.9 L444,436 L443.3,438.1 L442.4,440.2 L441.4,442.1 L440.3,444 L438.9,445.7 L437.3,447.2 L435.5,448.4 L433.5,449.4 L431.4,450.1 L429.2,450.4 L427,450.6 L424.8,450.8 L422.6,451 L420.5,451.5 L418.3,452 L416.2,452.6 L414.1,453.2 L412,453.9 L410.1,454.9 L408.1,455.8 L406.1,456.8 L404.2,457.8 L402.2,458.9 L400.4,459 L398.4,458 L396.3,457.4 L394.1,457 L391.9,457 L389.8,457.2 L387.6,457.7 L385.6,458.6 L383.7,459 L381.7,458.2 L379.5,457.7 L377.3,457.5 L375.1,457.6 L373,458.1 L370.9,458.7 L368.9,459 M622.5,404.3 L621.4,402.4 L620.3,400.5 L619.1,398.7 L617.8,396.9 L616.3,395.2 L614.9,393.6 L613.3,392 L611.7,390.5 L610,389.1 L608.3,387.7 L606.6,386.4 L605,384.9 L603.5,383.2 L602.2,381.4 L601,379.6 L600,377.6 L598.9,375.7 L598,373.7 L597.1,371.7 L596.4,369.6 L595.9,367.5 L595.3,365.4 L594.7,363.3 L593.9,361.2 L593.2,359.1 L592.3,357.1 L591.4,355.1 L590.3,353.2 L589.2,351.3 L587.9,349.5 L586.5,347.9 L584.8,346.4 L583.1,345 L581.4,343.6 L579.7,342.3 L578,340.8 L576.4,339.3 L574.9,337.7 L573.4,336.1 L571.9,334.5 L570.4,332.9 L569,331.2 L567.7,329.4 L566.6,327.5 L565.4,325.6 L564.5,323.7 L563.6,321.6 L562.9,319.5 L562.5,317.4 L562.4,315.2 M389.1,405.7 L387.5,404.1 L385.7,402.8 L383.8,401.8 L381.7,401 L379.6,400.5 L377.4,400 L375.3,399.7 L373.1,399.4 L370.9,399.5 L368.7,399.8 L366.6,400.4 L364.6,401.2 L362.6,402.3 L360.9,403.6 L359.2,405.1 L357.6,406.5 L356,408.1 L354.6,409.8 L353.2,411.5 L351.9,413.2 L350.7,415.1 L349.8,417.1 L349.3,419.2 L349,421.4 L348.8,423.6 L348.8,425.8 L349.1,428 M353.7,328.1 L355.6,329.2 L357.5,330.3 L359.5,331.4 L361.4,332.4 L363.5,333.2 L365.5,334.2 L367.4,335.2 L369.2,336.5 L370.9,337.9 L372.4,339.5 L373.9,341.1 L375.1,343 L376.2,344.9 L377.3,346.8 L378.2,348.8 L379,350.8 L380,352.8 L381.1,354.7 L382.3,356.5 L383.5,358.4 L384.9,360.1 L386.5,361.5 L388.4,362.8 L390.4,363.7 L392.5,364.4 L394.6,364.9 L396.8,365.1 L399,365 L401.1,364.6 L403.2,363.8 L405.1,362.8 L406.9,361.5 L408.5,359.9 L409.8,358.2 L410.9,356.3 L411.7,354.2 L412.3,352.1 L412.9,350 M464.9,330.4 L466.9,329.6 L468.9,328.5 L470.6,327.2 L472.2,325.7 L473.5,323.9 L474.7,322.1 L475.8,320.1 L476.6,318.1 L477.2,316 L477.4,313.8 L477.4,311.6 L477.2,309.4 L476.7,307.2 L476.2,305.1 L475.6,303 L474.7,301 L473.8,299 L472.7,297.1 L471.5,295.2 L470.2,293.4 L468.9,291.7 L467.6,289.9 L466.3,288.1 L465.2,286.2 L464.4,284.2 L463.7,284 L462.8,286 L461.7,287.9 L460.5,289.8 L459.2,291.5 L457.8,293.2 L456.4,294.9 L454.9,296.5 L453.2,298 L451.5,299.3 L449.7,300.6 M415,320.6 L413,319.7 L411,318.9 L409,317.9 L407.1,316.8 L405.3,315.5 L403.8,313.9 L402.4,312.2 L401.1,310.4 L400,308.5 L398.9,306.6 L397.8,304.7 L396.6,302.8 L395.2,301.1 L393.7,299.5 L392.1,298.1 L390.3,296.8 L388.4,295.6 L386.6,294.4 L384.8,293.1 L383,291.8 L381.3,290.5 L379.6,289.1 L377.9,287.7 L376,286.5 L374.2,285.3 L372.2,284.3 L370.2,284 L368.2,284.9 L366.2,285.9 L364.3,287.1 L362.5,288.4 L360.8,289.7 L359.2,291.2 L357.6,292.7 L356,294.3 L354.5,295.9 L353,297.5 L351.5,299.1 L350,300.7 L348.3,302.1 L346.5,303.3 L344.6,304.5 L342.7,305.6 L340.9,306.9 M628.9,289.5 L629,287.3 L628.7,285.1 L628.1,284 L627.7,286.2 L627.7,288.4 L627.7,290.6 L628,292.8 L628.4,294.9 L628.9,297.1 L629.5,299.2 L630.4,301.2 L631.3,303.2 L632.4,305.1 L633.3,307.1 L634.2,309.1 L634.8,311.2 L635.1,313.4 L635.1,315.6 L634.7,317.8 L634.1,319.9 L633.3,322 L632.1,323.8 L630.8,325.6 L629.2,327.1 L627.5,328.4 L625.5,329.4 L623.5,330.3 L621.4,331.1 L619.4,331.9 M533.1,440.7 L534.9,439.5 L536.8,438.4 L538.8,437.5 L540.9,436.8 L543.1,436.5 L545.3,436.4 L547.5,436.4 L549.7,436.5 L551.9,436.7 L554,437.2 L556.1,437.9 L558.1,438.7 L560.1,439.7 L562.1,440.7 L564,441.8 L565.9,442.9 L567.7,444.1 L569.5,445.4 L571.2,446.7 L572.8,448.3 L574.3,449.9 L575.8,451.5 L577.2,453.2 L578.5,455 L579.9,456.7 L581.2,458.4 L582.7,459 L584.2,457.3 L585.6,455.6 L586.9,453.9 L588,452 L588.9,450 M502.3,382.9 L500.3,383.8 L498.2,384.7 L496.2,385.4 L494.1,386.2 L492.1,387 L490,387.7 L487.9,388.3 L485.7,388.6 L483.5,388.7 L481.3,388.5 L479.2,388 L477.1,387.2 L475.2,386.2 L473.4,384.8 L471.9,383.3 L470.5,381.6 L469.2,379.8 L467.9,378 L466.5,376.3 L464.9,374.8 L463.2,373.4 L461.3,372.3 L459.3,371.4 M559.2,426.4 L560,424.4 L560.9,422.4 L562,420.5 L563.4,418.8 L565,417.3 L566.8,416 L568.8,415 L570.8,414.1 L572.8,413.3 L574.9,412.6 L577.1,412.3 L579.3,412.4 L581.5,412.7 L583.6,413.3 L585.6,414.2 L587.5,415.2 L589.3,416.5 L590.8,418.1 L592.2,419.8 L593.6,421.6 L594.9,423.3 L596.2,425.1 L597.5,426.9 L598.7,428.7 L599.8,430.6 L600.7,432.6 L601.4,434.7 L602,436.8 L602.3,439 L602.2,441.2 L601.9,443.4 L601.4,445.5 L600.8,447.6 L600.1,449.7 L599.1,451.7 L597.8,453.5 L596.4,455.1 L594.9,456.8 L593.4,458.3 L591.7,459 L590.1,457.5 L588.5,456 L586.8,454.5 L585.3,453 L583.7,451.4 L582.3,449.8 L580.8,448.2 L579.4,446.5 L578.1,444.7 M463.8,316.9 L465,315.1 L466.2,313.3 L467.4,311.4 L468.6,309.6 L469.7,307.7 L470.8,305.7 L471.6,303.7 L472.3,301.6 L472.6,299.4 L472.6,297.2 L472.2,295.1 L471.6,293 L470.6,291 L469.5,289.1 L468.2,287.3 L466.7,285.7 L465,284.3 L463.2,284 L461.4,285.3 L459.7,286.7 L458.1,288.2 L456.7,289.9 L455.5,291.8 L454.5,293.7 L453.7,295.8 L453.2,297.9 L452.7,300.1 M530.6,395.4 L532.7,395.8 L534.9,396.2 L537,396.6 L539.2,397.2 L541.2,398 L543.3,398.8 L545.3,399.7 L547.3,400.7 L549.2,401.6 L551.2,402.6 L553.3,403.3 L555.4,404 L557.5,404.5 L559.7,404.8 L561.9,404.9 L564.1,404.6 L566.2,404 L568.2,403 L570,401.8 L571.7,400.4 L573.2,398.8 L574.6,397.1 L575.8,395.3 L576.9,393.4 L577.6,391.3 L578.1,389.1 L578.2,386.9 L578,384.7 L577.6,382.6 L577,380.4 L576.2,378.4 L575.1,376.5 L573.8,374.8 L572.2,373.2 L570.4,371.9 L568.4,370.9 L566.4,370.2 L564.2,369.7 L562,369.5 L559.8,369.7 L557.7,370.1 L555.6,370.9 L553.7,371.9 L551.9,373.2 M609.4,439.5 L607.4,438.7 L605.3,438.1 L603.2,437.5 L601,437 L598.8,436.7 L596.7,436.2 L594.5,435.8 L592.3,435.5 L590.2,435.2 L588,434.9 L585.8,434.7 L583.6,434.5 L581.4,434.5 L579.2,434.5 L577,434.8 L574.8,435.1 L572.7,435.6 L570.6,436.2 L568.5,437 L566.4,437.7 L564.4,438.6 L562.5,439.6 L560.7,440.9 M449,345.5 L451.2,345.6 L453.4,345.4 L455.6,345 L457.7,344.4 L459.8,343.7 L461.8,342.7 L463.7,341.6 L465.4,340.3 L467.1,338.8 L468.6,337.2 L470,335.5 L471.4,333.8 L472.8,332.1 L474.1,330.3 L475.1,328.4 L476,326.4 L476.6,324.3 L476.8,322.1 L476.8,319.9 L476.6,317.7 L476.1,315.5 L475.3,313.5 L474.2,311.6 L472.8,309.9 L471.2,308.4 L469.4,307.1 L467.4,306.1 L465.4,305.3 L463.2,304.9 L461,304.7 L458.8,304.7 L456.6,305 L454.5,305.5 L452.4,306.2 M373.2,307.4 L373.4,309.6 L373.7,311.8 L374.3,313.9 L375.1,315.9 L376.2,317.8 L377.4,319.7 L378.7,321.4 L380.2,323.1 L381.9,324.5 L383.7,325.7 L385.7,326.6 L387.8,327.3 L390,327.7 L392.2,327.8 L394.4,327.6 L396.5,327.2 L398.7,326.7 L400.7,326 L402.7,325 L404.5,323.7 L406.2,322.3 L407.7,320.7 L409,318.9 L410.1,317 L411.1,315 L411.9,313 L412.3,310.8 L412.4,308.6 M357.1,297.5 L355,298 L352.8,298.3 L350.6,298.3 L348.4,298 L346.3,297.4 L344.3,296.6 L342.3,295.6 L340.4,294.5 L338.5,293.4 L336.8,292 L335.1,290.6 L333.6,288.9 L332.3,287.2 L331.1,285.3 L330.1,284 L328.8,285.8 L327.3,287.4 L327,288.8 L328.5,290.4 L329.9,292.1 L331,294 L331.8,296 L332.3,298.2 L332.5,300.4 L332.4,302.6 L332.1,304.7 L331.5,306.9 L330.7,308.9 L329.7,310.9 L328.5,312.7 L327,314.3 L328.4,316 L329.7,317.8 L330.9,319.6 L332,321.5 L332.8,323.6 L333.5,325.7 L334,327.8 L334.6,329.9 L335.2,332 L335.8,334.2 L336.5,336.2 L337.2,338.3 L338.2,340.3 L339.3,342.2 L340.5,344 L341.8,345.8 L343.1,347.6 M550.7,300.8 L551.6,298.8 L552.3,296.8 L553,294.7 L553.8,292.6 L554.6,290.6 L555.3,288.5 L556.2,286.4 L557,284.4 L557.9,284 L558.7,286.1 L559.4,288.1 L560.1,290.2 L560.7,292.3 L561.5,294.4 L562.6,296.3 L563.8,298.2 L565.2,299.9 L566.6,301.5 L568.3,303 L570.1,304.2 L572.1,305.1 L574.2,305.9 L576.3,306.5 M609.5,373.1 L611.2,374.4 L613,375.8 L614.6,377.2 L616.2,378.7 L617.6,380.4 L618.9,382.2 L620.2,384 L621.4,385.8 L622.8,387.5 L624.2,389.2 L625.8,390.7 L627.6,392 L629.5,393.1 L631.6,393.8 L633.7,394.4 L635.9,394.7 L638.1,394.7 L640.3,394.3 L642.4,393.7 L643,392.8 L640.9,392.2 L638.7,391.8 L636.5,391.5 L634.3,391.4 L632.1,391.4 L629.9,391.6 L627.8,392.1 M604.8,408.4 L606.7,409.4 L608.7,410.5 L610.6,411.6 L612.4,412.8 L614.1,414.2 L615.7,415.7 L617.2,417.3 L618.5,419.1 L619.7,420.9 L620.9,422.8 L621.9,424.8 L622.6,426.8 L623.3,428.9 L623.9,431 L624.4,433.2 L624.9,435.3 L625.2,437.5 L625.4,439.7 L625.5,441.9 L625.7,444.1 L626,446.2 L626.5,448.4 L627.1,450.5 L627.7,452.6 L628.5,454.7 L629.3,456.7 L630.3,458.7 L631.4,459 L632.4,457 L633,454.9 L633.4,452.7 L633.4,450.5 L633.2,448.4 L632.7,446.2 L631.9,444.1 L630.9,442.2 L629.7,440.4 L628.3,438.7 L626.8,437.1 L625.3,435.4 L623.8,433.9 L622.2,432.3 L620.6,430.8 L618.9,429.4 L617.2,428 L615.3,426.8 L613.5,425.6 M368.3,398.7 L368.4,396.5 L368.6,394.3 L368.8,392.1 L369.2,389.9 L369.6,387.8 L370.1,385.6 L370.7,383.5 L371.4,381.4 L372.4,379.5 L373.7,377.7 L375.1,376 L376.7,374.5 L378.5,373.2 L380.4,372.2 L382.5,371.3 L384.6,370.6 L386.7,370.2 L388.9,370 L391.1,370.1 L393.3,370.4 M399.4,286.4 L401.6,286.2 L403.8,286.4 L405.9,286.8 L408,287.5 L410,288.5 L411.8,289.8 L413.3,291.3 L414.7,293 L416,294.8 L417.2,296.7 L418.4,298.5 L419.5,300.4 L420.4,302.4 L421.2,304.5 L421.8,306.6 L422.3,308.7 L422.7,310.9 L422.9,313.1 L423,315.3 L422.9,317.5 L422.5,319.7 L421.8,321.8 L421,323.8 L420.2,325.8 L419.2,327.8 M374.3,295.8 L376.5,296 L378.7,296.3 L380.8,296.8 L382.9,297.6 L384.9,298.5 L386.9,299.4 L388.8,300.4 L390.7,301.6 L392.4,302.9 L394,304.4 L395.5,306.1 L396.7,307.9 L397.6,309.9 L398.3,312 L398.7,314.2 L398.8,316.4 L398.6,318.6 L398.2,320.7 L397.5,322.8 L396.4,324.8 L395.2,326.6 L393.8,328.2 L392.1,329.7 M382.1,354 L384.2,354.4 L386.4,354.7 L388.6,354.7 L390.8,354.7 L393,354.7 L395.2,354.7 L397.4,354.8 L399.6,354.9 L401.8,355 L404,355 L406.2,354.7 L408.3,354.3 L410.5,353.7 L412.6,353 L414.7,352.4 L416.8,351.9 L419,351.5 L421.2,351.4 L423.4,351.6 L425.5,352.1 L427.5,353 L429.4,354.1 L431.1,355.5 L432.6,357.2 L433.8,359 L434.7,361 M387.9,342.3 L388,344.5 L388,346.7 L387.9,348.9 L387.7,351.1 L387.4,353.3 L387,355.4 L386.4,357.6 L385.5,359.6 L384.5,361.5 L383.2,363.3 L381.8,365 L380.2,366.5 L378.4,367.8 L376.4,368.8 L374.3,369.4 L372.2,369.8 L370,369.8 L367.8,369.5 L365.7,368.9 L363.7,368 L361.9,366.8 L360.2,365.3 L358.8,363.7 L357.6,361.8 L356.7,359.8 L356.1,357.7 L355.8,355.5 L355.7,353.3 L355.9,351.1 L356.5,349 L357.3,346.9 L358.4,345 L359.8,343.3 L361.3,341.8 L363.1,340.4 L365,339.3 L366.9,338.3 L368.9,337.3 L370.9,336.4 L373,335.7 L375.1,335 L377.2,334.4 L379.3,333.9 L381.5,333.3 M353.4,341.9 L354.4,343.9 L355.4,345.9 L356.4,347.8 L357.5,349.8 L358.6,351.7 L359.9,353.4 L361.3,355.1 L362.8,356.8 L364.2,358.4 L365.8,360 L367.4,361.4 L369.2,362.8 L371,364 L373,365 L375.1,365.7 L377.2,366 L379.4,366.1 L381.6,365.8 L383.7,365.3 L385.8,364.4 L387.6,363.2 L389.3,361.8 L390.8,360.2 L392.2,358.5 L393.2,356.5 L394,354.5 L394.5,352.3 L394.8,350.2 L394.7,348 L394.3,345.8 L393.7,343.7 L392.8,341.7 L391.5,339.9 L390.2,338.2 L388.6,336.6 L386.8,335.3 L385,334.1 L383.1,333 L381,332.2 L378.9,331.6 L376.7,331.4 L374.5,331.6 L372.3,331.9 L370.2,332.5 M436.9,373.2 L438.1,371.4 L439.3,369.5 L440.4,367.6 L441.7,365.8 L442.9,364 L444,362.1 L444.9,360.1 L445.6,358 L445.9,355.8 L446.1,353.6 L446.1,351.4 L445.8,349.2 L445.2,347.1 L444.3,345.1 L443.2,343.2 L441.7,341.6 L440.1,340.1 L438.3,338.8 L436.4,337.7 L434.3,336.9 L432.2,336.3 L430,336 L427.8,336.1 L425.7,336.5 L423.6,337.2 L421.6,338.2 L419.8,339.4 L418.2,340.8 L416.6,342.4 L415,344 L413.6,345.6 L412.3,347.4 L411.1,349.2 L410.1,351.2 M442.8,457.4 L444,455.6 L445.2,453.8 L446.5,452 L447.8,450.2 L449.4,448.7 L451.1,447.4 L453.1,446.3 L455.1,445.5 L457.3,445 L459.4,444.7 L461.6,444.8 L463.8,445.1 L465.9,445.8 L468,446.5 L470,447.4 L471.9,448.5 L473.7,449.8 L475.4,451.2 L477,452.7 L478.4,454.3 L479.7,456.1 L480.9,458 L481.9,459 L482.9,457 L484,455.1 L485.2,453.3 L486.4,451.5 L487.7,449.7 L489,447.9 L490.4,446.2 L491.9,444.6 L493.6,443.2 L495.5,442 L497.4,441 M520.1,313.9 L522,312.8 L523.7,311.4 L525.1,309.7 L526.4,307.9 L527.7,306.2 L528.9,304.3 L529.9,302.4 L530.8,300.3 L531.4,298.2 L531.7,296 L531.8,293.8 L531.6,291.6 L531.1,289.5 L530.3,287.4 L529.4,285.4 L528.3,284 L527.3,285.9 L526.2,287.9 L525.1,289.8 L523.8,291.5 L522.4,293.2 L520.9,294.9 L519.3,296.4 L517.7,297.9 L516,299.3 L514.3,300.6 L512.5,302 L510.7,303.2 L508.8,304.3 L506.7,305 L504.6,305.5 L502.4,305.8 L500.2,305.9 L498,305.9 L495.8,305.7 M624.2,323.5 L622.9,321.8 L621.3,320.3 L619.5,319 L617.5,318.1 L615.4,317.4 L613.2,317.1 L611,317 L608.8,317.2 L606.7,317.6 L604.5,318 L602.4,318.5 L600.2,318.9 L598.1,319.4 L595.9,320 L593.8,320.7 L591.8,321.4 L589.7,322.2 L587.6,322.8 L585.5,323.4 L583.4,324.1 L581.4,325 L579.4,326 L577.6,327.2 L576,328.7 L574.7,330.5 L573.6,332.4 L572.8,334.4 L572.3,336.6 L572,338.8 L572.1,341 L572.4,343.2 L573,345.3 L573.8,347.3 L574.9,349.2 L576.2,351 M549.3,412 L547.1,412.1 L544.9,412.2 L542.7,412.3 L540.5,412.3 L538.3,412.2 L536.2,411.9 L534,411.4 L532,410.5 L530.1,409.4 L528.4,408.1 L526.9,406.5 L525.5,404.7 L524.2,403 L522.8,401.3 L521.3,399.7 L519.7,398.2 L518,396.7 L516.3,395.3 L514.7,393.9 L513.1,392.3 L511.6,390.7 L510.1,389.1 L508.6,387.5 L507.1,385.9 L505.6,384.2 L504.3,382.5 L503.2,380.6 L502.4,378.5 L501.8,376.4 L501.4,374.2 L501.2,372.1 L501.2,369.9 L501.4,367.7 L501.8,365.5 L502.4,363.4 L503.2,361.3 L504.1,359.3 L505.1,357.4 L506.1,355.4 L507.1,353.4 M624.2,424.7 L622.6,426.1 L620.8,427.5 L619.1,428.8 L617.4,430.2 L615.6,431.4 L613.7,432.6 L611.8,433.7 L609.8,434.6 L607.7,435.2 L605.5,435.4 L603.3,435.5 L601.1,435.4 L598.9,435 L596.8,434.5 L594.7,433.7 L592.7,432.7 L590.9,431.6 L589.2,430.2 L587.7,428.5 L586.5,426.7 L585.6,424.7 L585,422.6 M549.1,325.7 L547.4,324.2 L545.8,322.7 L544.3,321.1 L542.9,319.5 L541.6,317.7 L540.4,315.9 L539.3,313.9 L538.4,311.9 L537.7,309.8 L537.2,307.7 L536.9,305.5 L536.6,303.3 L536.5,301.1 L536.4,298.9 L536.2,296.7 L535.9,294.6 L535.3,292.4 L534.6,290.4 L533.7,288.4 L532.5,286.5 L531.2,284.8 M332.3,406 L331.3,404.1 L330.4,402.1 L329.4,400.1 L328.4,398.2 L327.4,396.2 L327,394.2 L328.1,392.3 L329.3,390.5 L330.8,388.9 L332.5,387.4 L334.4,386.3 L336.4,385.4 L338.6,384.9 L340.7,384.7 L342.9,384.8 L345.1,385.3 L347.2,386 L349.1,387.1 L350.8,388.4 L352.5,389.9 L353.9,391.6 L355,393.5 L356,395.4 M341.3,318.7 L343.2,317.6 L345.1,316.5 L346.8,315.2 L348.5,313.7 L349.9,312 L351.2,310.2 L352.4,308.4 L353.3,306.4 L353.9,304.3 L354.2,302.1 L354.2,299.9 L353.9,297.7 L353.4,295.6 L352.5,293.6 L351.3,291.7 L349.9,290 L348.5,288.3 L347.1,286.6 L345.6,285 L344.1,284 L342.7,285.7 L341.3,287.4 L340.1,289.3 L339.1,291.2 L338.2,293.2 L337.4,295.3 L336.8,297.4 L336.5,299.6 L336.4,301.8 M620.1,324.1 L619,326 L618,328 L617.2,330 L616.5,332.1 L616,334.2 L615.5,336.4 L614.9,338.5 L614.2,340.6 L613.5,342.7 L612.8,344.8 L612.3,346.9 L611.6,349 L610.8,351.1 L610,353.1 L609,355 L607.7,356.8 L606.3,358.5 L604.9,360.2 L603.5,361.9 L602,363.5 L600.5,365.2 L599.1,366.8 L597.6,368.4 L596,370 L594.4,371.5 L592.7,372.9 L591,374.3 L589.3,375.7 L587.7,377.2 L586.2,378.8 L584.8,380.5 L583.3,382.1 L581.8,383.7 M539.4,401.6 L537.2,401.3 L535,401.1 L532.8,401 L530.6,401.1 L528.4,401.1 L526.2,401.1 L524,401 L521.9,400.8 L519.7,400.4 L517.6,399.7 L515.6,398.9 L513.5,398 L511.5,397.1 L509.5,396.2 L507.5,395.3 L505.6,394.3 L503.7,393.1 L502.1,391.6 L500.6,390 L499.4,388.2 L498.4,386.2 L497.7,384.1 L497,382 L496.3,379.9 M490.5,435.8 L491.9,437.4 L493.5,439 L495.2,440.3 L497.2,441.4 L499.1,442.3 L501.2,443.2 L503.2,444.1 L505.2,444.9 L507.3,445.7 L509.3,446.6 L511.2,447.6 L513.1,448.8 L514.8,450.2 L516.4,451.7 L517.7,453.5 L518.7,455.4 L519.5,457.5 L519.9,459 L520.7,456.9 L521.8,455 L523,453.2 L524.4,451.5 L525.8,449.8 L527.5,448.4 L529.4,447.3 L531.4,446.3 L533.4,445.5 L535.5,444.7 L537.6,443.9 L539.6,443.1 L541.6,442.2 L543.5,441.1 L545.3,439.9 L547,438.5 L548.7,437 L550.3,435.5 L551.9,434 L553.6,432.7 L555.3,431.3 L557.1,430 L558.9,428.7 M389.6,413.2 L389.8,411 L389.9,408.8 L390.1,406.6 L390.4,404.4 L390.8,402.3 L391.3,400.1 L391.7,398 L392.2,395.8 L392.6,393.6 L392.7,391.4 L392.6,389.2 L392.4,387.1 L391.9,384.9 L391.2,382.8 L390.2,380.9 L388.9,379 L387.7,377.3 L386.4,375.5 L385,373.7 L383.6,372.1 L381.9,370.6 L380.3,369.1 L378.5,367.8 L376.6,366.7 L374.6,365.9 L372.5,365.4 L370.3,365 L368.1,365 L365.9,365.2 L363.8,365.8 L361.7,366.6 L359.8,367.5 L357.9,368.7 L356.1,370 L354.4,371.4 M579,388.9 L580.8,390.2 L582.5,391.5 L584.3,392.8 L586.2,393.9 L588.2,394.9 L590.3,395.5 L592.5,395.8 L594.7,395.8 L596.9,395.5 L599,394.9 L601.1,394.2 L603.1,393.4 L605.1,392.5 L607.1,391.5 L609,390.4 L610.8,389.2 L612.7,388 L614.4,386.7 L616.2,385.4 L618,384.1 L619.8,382.9 L621.7,381.7 L623.6,380.5 L625.4,379.4 L627.4,378.4 L629.4,377.4 L631.4,376.6 L633.4,375.7 L635.4,374.8 L637.5,374 L639.6,373.4 L641.7,372.8 L643,372.5 L640.9,371.9 L638.8,371.2 L636.7,370.5" fill="none" stroke="#a0a0a0" stroke-width="3" stroke-linecap="round" stroke-linejoin="round"/>
<path d="M523.6,413.6 L524.4,411.5 L525.4,409.6 L526.7,407.8 L528.2,406.2 L529.9,404.8 L531.7,403.5 L533.4,402.2 L535.2,400.9 L537,399.6 L538.8,398.4 L540.6,397.1 L542.3,395.7 L543.9,394.2 L545.5,392.7 L546.9,391 L548.2,389.2 L549.5,387.4 L550.7,385.6 L551.7,383.6 L552.6,381.6 L553.4,379.5 L553.8,377.4 L554.2,375.2 L554.3,373 L554.2,370.8 L554,368.6 L553.7,366.5 L553.1,364.3 L552.2,362.3 L551.1,360.5 L549.7,358.7 L548.2,357.1 L546.6,355.7 L544.8,354.3 L542.9,353.2 L541,352.1 L539,351.1 L537,350.4 L534.8,350 L532.6,349.6 L530.4,349.6 L528.2,349.8 L526.1,350.2 M512,388.5 L511.4,386.4 L510.7,384.3 L509.9,382.3 L509,380.3 L508.1,378.3 L506.9,376.4 L505.7,374.5 L504.4,372.8 L503,371.1 L501.5,369.5 L499.9,367.9 L498.3,366.4 L496.6,365 L494.9,363.7 L493,362.6 L491,361.7 L488.8,361.2 L486.7,360.9 L484.5,360.8 L482.3,360.9 L480.1,361.2 L477.9,361.3 L475.7,361.4 L473.5,361.6 L471.3,361.8 L469.1,361.9 L466.9,362.1 L464.7,362.3 L462.5,362.3 L460.3,362.1 L458.1,361.9 M625,301.7 L623.9,303.6 L622.8,305.5 L621.9,307.5 L621.2,309.6 L620.5,311.7 L620.1,313.9 L619.8,316 L619.6,318.2 L619.3,320.4 L619.2,322.6 L619.1,324.8 L619,327 L619,329.2 L619.1,331.4 L619.2,333.6 L619.5,335.8 L619.7,338 L620,340.1 L620.5,342.3 L621.2,344.4 L622,346.4 L622.9,348.4 L623.8,350.4 L624.7,352.5 L625.6,354.5 L626.5,356.5 L627.4,358.5 L628.2,360.5 L629.1,362.6 L629.8,364.6 L630.5,366.7 L631.2,368.8 L632,370.8 L633,372.8 L634.2,374.6 L635.7,376.3 L637.3,377.8 L639,379.2 L640.8,380.4 L642.8,381.3 L643,382.1 L641,383 L639,384 L637.2,385.2 L635.4,386.5 L633.7,387.9 L632.1,389.4 L630.5,391 L629.1,392.6 M384.3,447.2 L385.7,445.4 L386.9,443.6 L388.2,441.9 L389.5,440.1 L390.8,438.3 L392.2,436.6 L393.8,435.1 L395.5,433.7 L397.5,432.7 L399.5,431.9 L401.7,431.4 L403.9,431.2 L406.1,431.2 L408.2,431.5 L410.3,432.2 L412.3,433.2 L414.1,434.4 L415.8,435.8 L417.2,437.5 L418.4,439.4 L419.5,441.3 L420.5,443.2 L421.3,445.3 L422,447.4 L422.4,449.5 L422.6,451.7 L422.4,453.9 L421.9,456.1 L421.1,458.1 L420,459 L419.2,456.9 L418.7,454.8 L418.5,452.6 L418.6,450.4 L419.1,448.3 M634.5,450.5 L632.3,450.4 L630.1,450.3 L627.9,450.3 L625.7,450.3 L623.5,450.6 L621.4,451 L619.3,451.6 L617.2,452.4 L615.1,453.1 L613.1,453.9 L611,454.6 L608.8,455.2 L606.7,455.7 L604.5,456 L602.3,456.2 L600.1,456.2 L598,455.9 L595.8,455.4 L593.7,454.8 L591.7,453.9 L589.7,452.9 L587.9,451.7 L586.1,450.4 L584.5,448.9 L583.2,447.1 M380,439.4 L381.7,440.9 L383.4,442.3 L385.1,443.6 L386.9,444.9 L388.8,446 L390.7,447.2 L392.6,448.2 L394.6,449.2 L396.6,450 L398.7,450.6 L400.9,451 L403.1,451.1 L405.3,450.9 L407.4,450.5 L409.5,449.8 L411.5,448.7 L413.3,447.5 L414.9,446 L416.2,444.2 L417.3,442.3 L418.1,440.3 L418.8,438.2 L419.4,436 L419.9,433.9 L420.4,431.8 L420.9,429.6 L421.5,427.5 L422,425.4 L422.4,423.2 L422.7,421 L423.1,418.9 L423.8,416.8 L424.7,414.8 L425.8,412.9 L427.2,411.1 M328.3,304.6 L327,303.7 L329.1,302.9 L331.2,302.3 L333.3,301.7 L335.5,301.4 L337.7,301.3 L339.9,301.5 L342,301.9 L344.1,302.6 L346,303.7 L347.9,304.9 L349.5,306.3 L351,307.9 L352.2,309.8 L353.3,311.7 L354.4,313.6 L355.2,315.6 L356,317.7 L356.5,319.8 L356.9,322 L357.3,324.2 L357.7,326.3 L357.8,328.5 L357.9,330.7 M340.6,309.5 L338.9,310.9 L337.2,312.3 L335.4,313.6 L333.6,314.8 L331.7,316 L330,317.3 L328.2,318.6 L327,319.9 L328.8,321.3 L330.5,322.6 L332.3,323.9 L334,325.3 L335.5,326.8 L337.1,328.4 L338.6,330 L340,331.7 L341.4,333.4 L342.8,335.1 L344.2,336.8 L345.7,338.4 L347.2,340.1 L348.7,341.6 L350.3,343.2 L351.8,344.7 L353.5,346.2 L355.3,347.4 L357.2,348.5 L359.1,349.6 L361.1,350.6 L363,351.7 L365,352.6 L367,353.6 L369,354.5 L371,355.4 L373,356.3 L374.9,357.3 L376.9,358.3 M614.3,352.3 L612.4,353.5 L610.5,354.5 L608.4,355.1 L606.2,355.6 L604,355.9 L601.8,356.1 L599.6,356 L597.5,355.7 L595.3,355.1 L593.3,354.4 L591.2,353.5 L589.3,352.6 L587.4,351.4 L585.8,349.9 L584.4,348.2 L583.2,346.4 L582.3,344.3 L581.6,342.2 L581.2,340.1 L580.9,337.9 L580.7,335.7 L580.3,333.5 L580.1,331.4 L579.8,329.2 L579.6,327 L579.1,324.8 M455.3,369.7 L456.9,371.2 L458.5,372.7 L460,374.3 L461.5,375.9 L463.1,377.5 L464.6,379.1 L466.1,380.6 L467.6,382.2 L469.2,383.8 L470.8,385.2 L472.6,386.6 L474.4,387.8 L476.4,388.7 L478.5,389.3 L480.7,389.5 L482.9,389.4 L485.1,389.1 L487.2,388.5 L489.3,387.8 L491.3,386.8 L493.2,385.7 L494.9,384.3 L496.4,382.7 L497.7,380.9 L498.9,379.1 L499.9,377.1 L500.6,375.1 L501.1,372.9 L501.3,370.7 L501.2,368.5 L500.7,366.4 L500.2,364.2 L499.5,362.2 L498.7,360.1 L497.7,358.1 L496.6,356.3 L495.2,354.5 L493.8,352.8 L492.2,351.3 M370,326.3 L368.5,327.9 L367.2,329.7 L366,331.5 L365,333.5 L364.3,335.6 L363.8,337.7 L363.5,339.9 L363.5,342.1 L363.7,344.3 L364.2,346.4 L364.8,348.5 L365.7,350.6 L366.8,352.5 L368.1,354.3 L369.5,355.9 L371.1,357.4 L372.8,358.9 L374.4,360.4 L376,361.9 L377.5,363.4 L379.1,365 L380.5,366.7 L381.9,368.4 L383.2,370.2 L384.4,372 M446,429.8 L445.4,431.9 L444.7,433.9 L444,436 L443.3,438.1 L442.4,440.2 L441.4,442.1 L440.3,444 L438.9,445.7 L437.3,447.2 L435.5,448.4 L433.5,449.4 L431.4,450.1 L429.2,450.4 L427,450.6 L424.8,450.8 L422.6,451 L420.5,451.5 L418.3,452 L416.2,452.6 L414.1,453.2 L412,453.9 L410.1,454.9 L408.1,455.8 L406.1,456.8 L404.2,457.8 L402.2,458.9 L400.4,459 L398.4,458 L396.3,457.4 L394.1,457 L391.9,457 L389.8,457.2 L387.6,457.7 L385.6,458.6 L383.7,459 L381.7,458.2 L379.5,457.7 L377.3,457.5 L375.1,457.6 L373,458.1 L370.9,458.7 L368.9,459 M622.5,404.3 L621.4,402.4 L620.3,400.5 L619.1,398.7 L617.8,396.9 L616.3,395.2 L614.9,393.6 L613.3,392 L611.7,390.5 L610,389.1 L608.3,387.7 L606.6,386.4 L605,384.9 L603.5,383.2 L602.2,381.4 L601,379.6 L600,377.6 L598.9,375.7 L598,373.7 L597.1,371.7 L596.4,369.6 L595.9,367.5 L595.3,365.4 L594.7,363.3 L593.9,361.2 L593.2,359.1 L592.3,357.1 L591.4,355.1 L590.3,353.2 L589.2,351.3 L587.9,349.5 L586.5,347.9 L584.8,346.4 L583.1,345 L581.4,343.6 L579.7,342.3 L578,340.8 L576.4,339.3 L574.9,337.7 L573.4,336.1 L571.9,334.5 L570.4,332.9 L569,331.2 L567.7,329.4 L566.6,327.5 L565.4,325.6 L564.5,323.7 L563.6,321.6 L562.9,319.5 L562.5,317.4 L562.4,315.2 M389.1,405.7 L387.5,404.1 L385.7,402.8 L383.8,401.8 L381.7,401 L379.6,400.5 L377.4,400 L375.3,399.7 L373.1,399.4 L370.9,399.5 L368.7,399.8 L366.6,400.4 L364.6,401.2 L362.6,402.3 L360.9,403.6 L359.2,405.1 L357.6,406.5 L356,408.1 L354.6,409.8 L353.2,411.5 L351.9,413.2 L350.7,415.1 L349.8,417.1 L349.3,419.2 L349,421.4 L348.8,423.6 L348.8,425.8 L349.1,428 M353.7,328.1 L355.6,329.2 L357.5,330.3 L359.5,331.4 L361.4,332.4 L363.5,333.2 L365.5,334.2 L367.4,335.2 L369.2,336.5 L370.9,337.9 L372.4,339.5 L373.9,341.1 L375.1,343 L376.2,344.9 L377.3,346.8 L378.2,348.8 L379,350.8 L380,352.8 L381.1,354.7 L382.3,356.5 L383.5,358.4 L384.9,360.1 L386.5,361.5 L388.4,362.8 L390.4,363.7 L392.5,364.4 L394.6,364.9 L396.8,365.1 L399,365 L401.1,364.6 L403.2,363.8 L405.1,362.8 L406.9,361.5 L408.5,359.9 L409.8,358.2 L410.9,356.3 L411.7,354.2 L412.3,352.1 L412.9,350 M464.9,330.4 L466.9,329.6 L468.9,328.5 L470.6,327.2 L472.2,325.7 L473.5,323.9 L474.7,322.1 L475.8,320.1 L476.6,318.1 L477.2,316 L477.4,313.8 L477.4,311.6 L477.2,309.4 L476.7,307.2 L476.2,305.1 L475.6,303 L474.7,301 L473.8,299 L472.7,297.1 L471.5,295.2 L470.2,293.4 L468.9,291.7 L467.6,289.9 L466.3,288.1 L465.2,286.2 L464.4,284.2 L463.7,284 L462.8,286 L461.7,287.9 L460.5,289.8 L459.2,291.5 L457.8,293.2 L456.4,294.9 L454.9,296.5 L453.2,298 L451.5,299.3 L449.7,300.6 M415,320.6 L413,319.7 L411,318.9 L409,317.9 L407.1,316.8 L405.3,315.5 L403.8,313.9 L402.4,312.2 L401.1,310.4 L400,308.5 L398.9,306.6 L397.8,304.7 L396.6,302.8 L395.2,301.1 L393.7,299.5 L392.1,298.1 L390.3,296.8 L388.4,295.6 L386.6,294.4 L384.8,293.1 L383,291.8 L381.3,290.5 L379.6,289.1 L377.9,287.7 L376,286.5 L374.2,285.3 L372.2,284.3 L370.2,284 L368.2,284.9 L366.2,285.9 L364.3,287.1 L362.5,288.4 L360.8,289.7 L359.2,291.2 L357.6,292.7 L356,294.3 L354.5,295.9 L353,297.5 L351.5,299.1 L350,300.7 L348.3,302.1 L346.5,303.3 L344.6,304.5 L342.7,305.6 L340.9,306.9 M628.9,289.5 L629,287.3 L628.7,285.1 L628.1,284 L627.7,286.2 L627.7,288.4 L627.7,290.6 L628,292.8 L628.4,294.9 L628.9,297.1 L629.5,299.2 L630.4,301.2 L631.3,303.2 L632.4,305.1 L633.3,307.1 L634.2,309.1 L634.8,311.2 L635.1,313.4 L635.1,315.6 L634.7,317.8 L634.1,319.9 L633.3,322 L632.1,323.8 L630.8,325.6 L629.2,327.1 L627.5,328.4 L625.5,329.4 L623.5,330.3 L621.4,331.1 L619.4,331.9 M533.1,440.7 L534.9,439.5 L536.8,438.4 L538.8,437.5 L540.9,436.8 L543.1,436.5 L545.3,436.4 L547.5,436.4 L549.7,436.5 L551.9,436.7 L554,437.2 L556.1,437.9 L558.1,438.7 L560.1,439.7 L562.1,440.7 L564,441.8 L565.9,442.9 L567.7,444.1 L569.5,445.4 L571.2,446.7 L572.8,448.3 L574.3,449.9 L575.8,451.5 L577.2,453.2 L578.5,455 L579.9,456.7 L581.2,458.4 L582.7,459 L584.2,457.3 L585.6,455.6 L586.9,453.9 L588,452 L588.9,450 M502.3,382.9 L500.3,383.8 L498.2,384.7 L496.2,385.4 L494.1,386.2 L492.1,387 L490,387.7 L487.9,388.3 L485.7,388.6 L483.5,388.7 L481.3,388.5 L479.2,388 L477.1,387.2 L475.2,386.2 L473.4,384.8 L471.9,383.3 L470.5,381.6 L469.2,379.8 L467.9,378 L466.5,376.3 L464.9,374.8 L463.2,373.4 L461.3,372.3 L459.3,371.4 M559.2,426.4 L560,424.4 L560.9,422.4 L562,420.5 L563.4,418.8 L565,417.3 L566.8,416 L568.8,415 L570.8,414.1 L572.8,413.3 L574.9,412.6 L577.1,412.3 L579.3,412.4 L581.5,412.7 L583.6,413.3 L585.6,414.2 L587.5,415.2 L589.3,416.5 L590.8,418.1 L592.2,419.8 L593.6,421.6 L594.9,423.3 L596.2,425.1 L597.5,426.9 L598.7,428.7 L599.8,430.6 L600.7,432.6 L601.4,434.7 L602,436.8 L602.3,439 L602.2,441.2 L601.9,443.4 L601.4,445.5 L600.8,447.6 L600.1,449.7 L599.1,451.7 L597.8,453.5 L596.4,455.1 L594.9,456.8 L593.4,458.3 L591.7,459 L590.1,457.5 L588.5,456 L586.8,454.5 L585.3,453 L583.7,451.4 L582.3,449.8 L580.8,448.2 L579.4,446.5 L578.1,444.7 M463.8,316.9 L465,315.1 L466.2,313.3 L467.4,311.4 L468.6,309.6 L469.7,307.7 L470.8,305.7 L471.6,303.7 L472.3,301.6 L472.6,299.4 L472.6,297.2 L472.2,295.1 L471.6,293 L470.6,291 L469.5,289.1 L468.2,287.3 L466.7,285.7 L465,284.3 L463.2,284 L461.4,285.3 L459.7,286.7 L458.1,288.2 L456.7,289.9 L455.5,291.8 L454.5,293.7 L453.7,295.8 L453.2,297.9 L452.7,300.1 M530.6,395.4 L532.7,395.8 L534.9,396.2 L537,396.6 L539.2,397.2 L541.2,398 L543.3,398.8 L545.3,399.7 L547.3,400.7 L549.2,401.6 L551.2,402.6 L553.3,403.3 L555.4,404 L557.5,404.5 L559.7,404.8 L561.9,404.9 L564.1,404.6 L566.2,404 L568.2,403 L570,401.8 L571.7,400.4 L573.2,398.8 L574.6,397.1 L575.8,395.3 L576.9,393.4 L577.6,391.3 L578.1,389.1 L578.2,386.9 L578,384.7 L577.6,382.6 L577,380.4 L576.2,378.4 L575.1,376.5 L573.8,374.8 L572.2,373.2 L570.4,371.9 L568.4,370.9 L566.4,370.2 L564.2,369.7 L562,369.5 L559.8,369.7 L557.7,370.1 L555.6,370.9 L553.7,371.9 L551.9,373.2 M609.4,439.5 L607.4,438.7 L605.3,438.1 L603.2,437.5 L601,437 L598.8,436.7 L596.7,436.2 L594.5,435.8 L592.3,435.5 L590.2,435.2 L588,434.9 L585.8,434.7 L583.6,434.5 L581.4,434.5 L579.2,434.5 L577,434.8 L574.8,435.1 L572.7,435.6 L570.6,436.2 L568.5,437 L566.4,437.7 L564.4,438.6 L562.5,439.6 L560.7,440.9 M449,345.5 L451.2,345.6 L453.4,345.4 L455.6,345 L457.7,344.4 L459.8,343.7 L461.8,342.7 L463.7,341.6 L465.4,340.3 L467.1,338.8 L468.6,337.2 L470,335.5 L471.4,333.8 L472.8,332.1 L474.1,330.3 L475.1,328.4 L476,326.4 L476.6,324.3 L476.8,322.1 L476.8,319.9 L476.6,317.7 L476.1,315.5 L475.3,313.5 L474.2,311.6 L472.8,309.9 L471.2,308.4 L469.4,307.1 L467.4,306.1 L465.4,305.3 L463.2,304.9 L461,304.7 L458.8,304.7 L456.6,305 L454.5,305.5 L452.4,306.2 M373.2,307.4 L373.4,309.6 L373.7,311.8 L374.3,313.9 L375.1,315.9 L376.2,317.8 L377.4,319.7 L378.7,321.4 L380.2,323.1 L381.9,324.5 L383.7,325.7 L385.7,326.6 L387.8,327.3 L390,327.7 L392.2,327.8 L394.4,327.6 L396.5,327.2 L398.7,326.7 L400.7,326 L402.7,325 L404.5,323.7 L406.2,322.3 L407.7,320.7 L409,318.9 L410.1,317 L411.1,315 L411.9,313 L412.3,310.8 L412.4,308.6 M357.1,297.5 L355,298 L352.8,298.3 L350.6,298.3 L348.4,298 L346.3,297.4 L344.3,296.6 L342.3,295.6 L340.4,294.5 L338.5,293.4 L336.8,292 L335.1,290.6 L333.6,288.9 L332.3,287.2 L331.1,285.3 L330.1,284 L328.8,285.8 L327.3,287.4 L327,288.8 L328.5,290.4 L329.9,292.1 L331,294 L331.8,296 L332.3,298.2 L332.5,300.4 L332.4,302.6 L332.1,304.7 L331.5,306.9 L330.7,308.9 L329.7,310.9 L328.5,312.7 L327,314.3 L328.4,316 L329.7,317.8 L330.9,319.6 L332,321.5 L332.8,323.6 L333.5,325.7 L334,327.8 L334.6,329.9 L335.2,332 L335.8,334.2 L336.5,336.2 L337.2,338.3 L338.2,340.3 L339.3,342.2 L340.5,344 L341.8,345.8 L343.1,347.6 M550.7,300.8 L551.6,298.8 L552.3,296.8 L553,294.7 L553.8,292.6 L554.6,290.6 L555.3,288.5 L556.2,286.4 L557,284.4 L557.9,284 L558.7,286.1 L559.4,288.1 L560.1,290.2 L560.7,292.3 L561.5,294.4 L562.6,296.3 L563.8,298.2 L565.2,299.9 L566.6,301.5 L568.3,303 L570.1,304.2 L572.1,305.1 L574.2,305.9 L576.3,306.5 M609.5,373.1 L611.2,374.4 L613,375.8 L614.6,377.2 L616.2,378.7 L617.6,380.4 L618.9,382.2 L620.2,384 L621.4,385.8 L622.8,387.5 L624.2,389.2 L625.8,390.7 L627.6,392 L629.5,393.1 L631.6,393.8 L633.7,394.4 L635.9,394.7 L638.1,394.7 L640.3,394.3 L642.4,393.7 L643,392.8 L640.9,392.2 L638.7,391.8 L636.5,391.5 L634.3,391.4 L632.1,391.4 L629.9,391.6 L627.8,392.1 M604.8,408.4 L606.7,409.4 L608.7,410.5 L610.6,411.6 L612.4,412.8 L614.1,414.2 L615.7,415.7 L617.2,417.3 L618.5,419.1 L619.7,420.9 L620.9,422.8 L621.9,424.8 L622.6,426.8 L623.3,428.9 L623.9,431 L624.4,433.2 L624.9,435.3 L625.2,437.5 L625.4,439.7 L625.5,441.9 L625.7,444.1 L626,446.2 L626.5,448.4 L627.1,450.5 L627.7,452.6 L628.5,454.7 L629.3,456.7 L630.3,458.7 L631.4,459 L632.4,457 L633,454.9 L633.4,452.7 L633.4,450.5 L633.2,448.4 L632.7,446.2 L631.9,444.1 L630.9,442.2 L629.7,440.4 L628.3,438.7 L626.8,437.1 L625.3,435.4 L623.8,433.9 L622.2,432.3 L620.6,430.8 L618.9,429.4 L617.2,428 L615.3,426.8 L613.5,425.6 M368.3,398.7 L368.4,396.5 L368.6,394.3 L368.8,392.1 L369.2,389.9 L369.6,387.8 L370.1,385.6 L370.7,383.5 L371.4,381.4 L372.4,379.5 L373.7,377.7 L375.1,376 L376.7,374.5 L378.5,373.2 L380.4,372.2 L382.5,371.3 L384.6,370.6 L386.7,370.2 L388.9,370 L391.1,370.1 L393.3,370.4 M399.4,286.4 L401.6,286.2 L403.8,286.4 L405.9,286.8 L408,287.5 L410,288.5 L411.8,289.8 L413.3,291.3 L414.7,293 L416,294.8 L417.2,296.7 L418.4,298.5 L419.5,300.4 L420.4,302.4 L421.2,304.5 L421.8,306.6 L422.3,308.7 L422.7,310.9 L422.9,313.1 L423,315.3 L422.9,317.5 L422.5,319.7 L421.8,321.8 L421,323.8 L420.2,325.8 L419.2,327.8 M374.3,295.8 L376.5,296 L378.7,296.3 L380.8,296.8 L382.9,297.6 L384.9,298.5 L386.9,299.4 L388.8,300.4 L390.7,301.6 L392.4,302.9 L394,304.4 L395.5,306.1 L396.7,307.9 L397.6,309.9 L398.3,312 L398.7,314.2 L398.8,316.4 L398.6,318.6 L398.2,320.7 L397.5,322.8 L396.4,324.8 L395.2,326.6 L393.8,328.2 L392.1,329.7 M382.1,354 L384.2,354.4 L386.4,354.7 L388.6,354.7 L390.8,354.7 L393,354.7 L395.2,354.7 L397.4,354.8 L399.6,354.9 L401.8,355 L404,355 L406.2,354.7 L408.3,354.3 L410.5,353.7 L412.6,353 L414.7,352.4 L416.8,351.9 L419,351.5 L421.2,351.4 L423.4,351.6 L425.5,352.1 L427.5,353 L429.4,354.1 L431.1,355.5 L432.6,357.2 L433.8,359 L434.7,361 M387.9,342.3 L388,344.5 L388,346.7 L387.9,348.9 L387.7,351.1 L387.4,353.3 L387,355.4 L386.4,357.6 L385.5,359.6 L384.5,361.5 L383.2,363.3 L381.8,365 L380.2,366.5 L378.4,367.8 L376.4,368.8 L374.3,369.4 L372.2,369.8 L370,369.8 L367.8,369.5 L365.7,368.9 L363.7,368 L361.9,366.8 L360.2,365.3 L358.8,363.7 L357.6,361.8 L356.7,359.8 L356.1,357.7 L355.8,355.5 L355.7,353.3 L355.9,351.1 L356.5,349 L357.3,346.9 L358.4,345 L359.8,343.3 L361.3,341.8 L363.1,340.4 L365,339.3 L366.9,338.3 L368.9,337.3 L370.9,336.4 L373,335.7 L375.1,335 L377.2,334.4 L379.3,333.9 L381.5,333.3 M353.4,341.9 L354.4,343.9 L355.4,345.9 L356.4,347.8 L357.5,349.8 L358.6,351.7 L359.9,353.4 L361.3,355.1 L362.8,356.8 L364.2,358.4 L365.8,360 L367.4,361.4 L369.2,362.8 L371,364 L373,365 L375.1,365.7 L377.2,366 L379.4,366.1 L381.6,365.8 L383.7,365.3 L385.8,364.4 L387.6,363.2 L389.3,361.8 L390.8,360.2 L392.2,358.5 L393.2,356.5 L394,354.5 L394.5,352.3 L394.8,350.2 L394.7,348 L394.3,345.8 L393.7,343.7 L392.8,341.7 L391.5,339.9 L390.2,338.2 L388.6,336.6 L386.8,335.3 L385,334.1 L383.1,333 L381,332.2 L378.9,331.6 L376.7,331.4 L374.5,331.6 L372.3,331.9 L370.2,332.5 M436.9,373.2 L438.1,371.4 L439.3,369.5 L440.4,367.6 L441.7,365.8 L442.9,364 L444,362.1 L444.9,360.1 L445.6,358 L445.9,355.8 L446.1,353.6 L446.1,351.4 L445.8,349.2 L445.2,347.1 L444.3,345.1 L443.2,343.2 L441.7,341.6 L440.1,340.1 L438.3,338.8 L436.4,337.7 L434.3,336.9 L432.2,336.3 L430,336 L427.8,336.1 L425.7,336.5 L423.6,337.2 L421.6,338.2 L419.8,339.4 L418.2,340.8 L416.6,342.4 L415,344 L413.6,345.6 L412.3,347.4 L411.1,349.2 L410.1,351.2 M442.8,457.4 L444,455.6 L445.2,453.8 L446.5,452 L447.8,450.2 L449.4,448.7 L451.1,447.4 L453.1,446.3 L455.1,445.5 L457.3,445 L459.4,444.7 L461.6,444.8 L463.8,445.1 L465.9,445.8 L468,446.5 L470,447.4 L471.9,448.5 L473.7,449.8 L475.4,451.2 L477,452.7 L478.4,454.3 L479.7,456.1 L480.9,458 L481.9,459 L482.9,457 L484,455.1 L485.2,453.3 L486.4,451.5 L487.7,449.7 L489,447.9 L490.4,446.2 L491.9,444.6 L493.6,443.2 L495.5,442 L497.4,441 M520.1,313.9 L522,312.8 L523.7,311.4 L525.1,309.7 L526.4,307.9 L527.7,306.2 L528.9,304.3 L529.9,302.4 L530.8,300.3 L531.4,298.2 L531.7,296 L531.8,293.8 L531.6,291.6 L531.1,289.5 L530.3,287.4 L529.4,285.4 L528.3,284 L527.3,285.9 L526.2,287.9 L525.1,289.8 L523.8,291.5 L522.4,293.2 L520.9,294.9 L519.3,296.4 L517.7,297.9 L516,299.3 L514.3,300.6 L512.5,302 L510.7,303.2 L508.8,304.3 L506.7,305 L504.6,305.5 L502.4,305.8 L500.2,305.9 L498,305.9 L495.8,305.7 M624.2,323.5 L622.9,321.8 L621.3,320.3 L619.5,319 L617.5,318.1 L615.4,317.4 L613.2,317.1 L611,317 L608.8,317.2 L606.7,317.6 L604.5,318 L602.4,318.5 L600.2,318.9 L598.1,319.4 L595.9,320 L593.8,320.7 L591.8,321.4 L589.7,322.2 L587.6,322.8 L585.5,323.4 L583.4,324.1 L581.4,325 L579.4,326 L577.6,327.2 L576,328.7 L574.7,330.5 L573.6,332.4 L572.8,334.4 L572.3,336.6 L572,338.8 L572.1,341 L572.4,343.2 L573,345.3 L573.8,347.3 L574.9,349.2 L576.2,351 M549.3,412 L547.1,412.1 L544.9,412.2 L542.7,412.3 L540.5,412.3 L538.3,412.2 L536.2,411.9 L534,411.4 L532,410.5 L530.1,409.4 L528.4,408.1 L526.9,406.5 L525.5,404.7 L524.2,403 L522.8,401.3 L521.3,399.7 L519.7,398.2 L518,396.7 L516.3,395.3 L514.7,393.9 L513.1,392.3 L511.6,390.7 L510.1,389.1 L508.6,387.5 L507.1,385.9 L505.6,384.2 L504.3,382.5 L503.2,380.6 L502.4,378.5 L501.8,376.4 L501.4,374.2 L501.2,372.1 L501.2,369.9 L501.4,367.7 L501.8,365.5 L502.4,363.4 L503.2,361.3 L504.1,359.3 L505.1,357.4 L506.1,355.4 L507.1,353.4 M624.2,424.7 L622.6,426.1 L620.8,427.5 L619.1,428.8 L617.4,430.2 L615.6,431.4 L613.7,432.6 L611.8,433.7 L609.8,434.6 L607.7,435.2 L605.5,435.4 L603.3,435.5 L601.1,435.4 L598.9,435 L596.8,434.5 L594.7,433.7 L592.7,432.7 L590.9,431.6 L589.2,430.2 L587.7,428.5 L586.5,426.7 L585.6,424.7 L585,422.6 M549.1,325.7 L547.4,324.2 L545.8,322.7 L544.3,321.1 L542.9,319.5 L541.6,317.7 L540.4,315.9 L539.3,313.9 L538.4,311.9 L537.7,309.8 L537.2,307.7 L536.9,305.5 L536.6,303.3 L536.5,301.1 L536.4,298.9 L536.2,296.7 L535.9,294.6 L535.3,292.4 L534.6,290.4 L533.7,288.4 L532.5,286.5 L531.2,284.8 M332.3,406 L331.3,404.1 L330.4,402.1 L329.4,400.1 L328.4,398.2 L327.4,396.2 L327,394.2 L328.1,392.3 L329.3,390.5 L330.8,388.9 L332.5,387.4 L334.4,386.3 L336.4,385.4 L338.6,384.9 L340.7,384.7 L342.9,384.8 L345.1,385.3 L347.2,386 L349.1,387.1 L350.8,388.4 L352.5,389.9 L353.9,391.6 L355,393.5 L356,395.4 M341.3,318.7 L343.2,317.6 L345.1,316.5 L346.8,315.2 L348.5,313.7 L349.9,312 L351.2,310.2 L352.4,308.4 L353.3,306.4 L353.9,304.3 L354.2,302.1 L354.2,299.9 L353.9,297.7 L353.4,295.6 L352.5,293.6 L351.3,291.7 L349.9,290 L348.5,288.3 L347.1,286.6 L345.6,285 L344.1,284 L342.7,285.7 L341.3,287.4 L340.1,289.3 L339.1,291.2 L338.2,293.2 L337.4,295.3 L336.8,297.4 L336.5,299.6 L336.4,301.8 M620.1,324.1 L619,326 L618,328 L617.2,330 L616.5,332.1 L616,334.2 L615.5,336.4 L614.9,338.5 L614.2,340.6 L613.5,342.7 L612.8,344.8 L612.3,346.9 L611.6,349 L610.8,351.1 L610,353.1 L609,355 L607.7,356.8 L606.3,358.5 L604.9,360.2 L603.5,361.9 L602,363.5 L600.5,365.2 L599.1,366.8 L597.6,368.4 L596,370 L594.4,371.5 L592.7,372.9 L591,374.3 L589.3,375.7 L587.7,377.2 L586.2,378.8 L584.8,380.5 L583.3,382.1 L581.8,383.7 M539.4,401.6 L537.2,401.3 L535,401.1 L532.8,401 L530.6,401.1 L528.4,401.1 L526.2,401.1 L524,401 L521.9,400.8 L519.7,400.4 L517.6,399.7 L515.6,398.9 L513.5,398 L511.5,397.1 L509.5,396.2 L507.5,395.3 L505.6,394.3 L503.7,393.1 L502.1,391.6 L500.6,390 L499.4,388.2 L498.4,386.2 L497.7,384.1 L497,382 L496.3,379.9 M490.5,435.8 L491.9,437.4 L493.5,439 L495.2,440.3 L497.2,441.4 L499.1,442.3 L501.2,443.2 L503.2,444.1 L505.2,444.9 L507.3,445.7 L509.3,446.6 L511.2,447.6 L513.1,448.8 L514.8,450.2 L516.4,451.7 L517.7,453.5 L518.7,455.4 L519.5,457.5 L519.9,459 L520.7,456.9 L521.8,455 L523,453.2 L524.4,451.5 L525.8,449.8 L527.5,448.4 L529.4,447.3 L531.4,446.3 L533.4,445.5 L535.5,444.7 L537.6,443.9 L539.6,443.1 L541.6,442.2 L543.5,441.1 L545.3,439.9 L547,438.5 L548.7,437 L550.3,435.5 L551.9,434 L553.6,432.7 L555.3,431.3 L557.1,430 L558.9,428.7 M389.6,413.2 L389.8,411 L389.9,408.8 L390.1,406.6 L390.4,404.4 L390.8,402.3 L391.3,400.1 L391.7,398 L392.2,395.8 L392.6,393.6 L392.7,391.4 L392.6,389.2 L392.4,387.1 L391.9,384.9 L391.2,382.8 L390.2,380.9 L388.9,379 L387.7,377.3 L386.4,375.5 L385,373.7 L383.6,372.1 L381.9,370.6 L380.3,369.1 L378.5,367.8 L376.6,366.7 L374.6,365.9 L372.5,365.4 L370.3,365 L368.1,365 L365.9,365.2 L363.8,365.8 L361.7,366.6 L359.8,367.5 L357.9,368.7 L356.1,370 L354.4,371.4 M579,388.9 L580.8,390.2 L582.5,391.5 L584.3,392.8 L586.2,393.9 L588.2,394.9 L590.3,395.5 L592.5,395.8 L594.7,395.8 L596.9,395.5 L599,394.9 L601.1,394.2 L603.1,393.4 L605.1,392.5 L607.1,391.5 L609,390.4 L610.8,389.2 L612.7,388 L614.4,386.7 L616.2,385.4 L618,384.1 L619.8,382.9 L621.7,381.7 L623.6,380.5 L625.4,379.4 L627.4,378.4 L629.4,377.4 L631.4,376.6 L633.4,375.7 L635.4,374.8 L637.5,374 L639.6,373.4 L641.7,372.8 L643,372.5 L640.9,371.9 L638.8,371.2 L636.7,370.5" fill="none" stroke="#dadada" stroke-width="1.1" stroke-linecap="round" stroke-linejoin="round" transform="translate(-0.5,-0.6)"/>
<g transform="rotate(-4 400 307.4)"><path d="M370,297.2 L377.5,293 L377.5,302.6 L370,306.8Z" fill="#8bd653"/><path d="M377.5,293 L385,297.2 L385,306.8 L377.5,302.6Z" fill="#66bd37"/><path d="M385,297.2 L392.5,293 L392.5,302.6 L385,306.8Z" fill="#8bd653"/><path d="M392.5,293 L400,297.2 L400,306.8 L392.5,302.6Z" fill="#66bd37"/><path d="M400,297.2 L407.5,293 L407.5,302.6 L400,306.8Z" fill="#8bd653"/><path d="M407.5,293 L415,297.2 L415,306.8 L407.5,302.6Z" fill="#66bd37"/><path d="M415,297.2 L422.5,293 L422.5,302.6 L415,306.8Z" fill="#8bd653"/><path d="M422.5,293 L430,297.2 L430,306.8 L422.5,302.6Z" fill="#66bd37"/><path d="M370,297.2 L377.5,293 L385,297.2 L392.5,293 L400,297.2 L407.5,293 L415,297.2 L422.5,293 L430,297.2" fill="none" stroke="#4a9a2a" stroke-width="0.7"/><path d="M370,306.8 L377.5,302.6 L377.5,312.2 L370,316.4Z" fill="#8bd653"/><path d="M377.5,302.6 L385,306.8 L385,316.4 L377.5,312.2Z" fill="#66bd37"/><path d="M385,306.8 L392.5,302.6 L392.5,312.2 L385,316.4Z" fill="#8bd653"/><path d="M392.5,302.6 L400,306.8 L400,316.4 L392.5,312.2Z" fill="#66bd37"/><path d="M400,306.8 L407.5,302.6 L407.5,312.2 L400,316.4Z" fill="#8bd653"/><path d="M407.5,302.6 L415,306.8 L415,316.4 L407.5,312.2Z" fill="#66bd37"/><path d="M415,306.8 L422.5,302.6 L422.5,312.2 L415,316.4Z" fill="#8bd653"/><path d="M422.5,302.6 L430,306.8 L430,316.4 L422.5,312.2Z" fill="#66bd37"/><path d="M370,306.8 L377.5,302.6 L385,306.8 L392.5,302.6 L400,306.8 L407.5,302.6 L415,306.8 L422.5,302.6 L430,306.8" fill="none" stroke="#3d8a20" stroke-width="0.9" transform="translate(0,-0.7)"/><path d="M370,306.8 L377.5,302.6 L385,306.8 L392.5,302.6 L400,306.8 L407.5,302.6 L415,306.8 L422.5,302.6 L430,306.8" fill="none" stroke="#ffffff" stroke-width="1.1" transform="translate(0,0.6)"/><path d="M370,316.4 L377.5,312.2 L377.5,321.8 L370,326Z" fill="#8bd653"/><path d="M377.5,312.2 L385,316.4 L385,326 L377.5,321.8Z" fill="#66bd37"/><path d="M385,316.4 L392.5,312.2 L392.5,321.8 L385,326Z" fill="#8bd653"/><path d="M392.5,312.2 L400,316.4 L400,326 L392.5,321.8Z" fill="#66bd37"/><path d="M400,316.4 L407.5,312.2 L407.5,321.8 L400,326Z" fill="#8bd653"/><path d="M407.5,312.2 L415,316.4 L415,326 L407.5,321.8Z" fill="#66bd37"/><path d="M415,316.4 L422.5,312.2 L422.5,321.8 L415,326Z" fill="#8bd653"/><path d="M422.5,312.2 L430,316.4 L430,326 L422.5,321.8Z" fill="#66bd37"/><path d="M370,316.4 L377.5,312.2 L385,316.4 L392.5,312.2 L400,316.4 L407.5,312.2 L415,316.4 L422.5,312.2 L430,316.4" fill="none" stroke="#3d8a20" stroke-width="0.9" transform="translate(0,-0.7)"/><path d="M370,316.4 L377.5,312.2 L385,316.4 L392.5,312.2 L400,316.4 L407.5,312.2 L415,316.4 L422.5,312.2 L430,316.4" fill="none" stroke="#ffffff" stroke-width="1.1" transform="translate(0,0.6)"/><path d="M370,326 L377.5,321.8 L385,326 L392.5,321.8 L400,326 L407.5,321.8 L415,326 L422.5,321.8 L430,326" fill="none" stroke="#3f8a22" stroke-width="0.9"/><path d="M370,297.2 V326 M385,297.2 V326 M400,297.2 V326 M415,297.2 V326 M430,297.2 V326" fill="none" stroke="#3f7f22" stroke-width="0.6"/></g>
<g transform="rotate(-10 436 360.4)"><path d="M406,350.2 L413.5,346 L413.5,355.6 L406,359.8Z" fill="#8bd653"/><path d="M413.5,346 L421,350.2 L421,359.8 L413.5,355.6Z" fill="#66bd37"/><path d="M421,350.2 L428.5,346 L428.5,355.6 L421,359.8Z" fill="#8bd653"/><path d="M428.5,346 L436,350.2 L436,359.8 L428.5,355.6Z" fill="#66bd37"/><path d="M436,350.2 L443.5,346 L443.5,355.6 L436,359.8Z" fill="#8bd653"/><path d="M443.5,346 L451,350.2 L451,359.8 L443.5,355.6Z" fill="#66bd37"/><path d="M451,350.2 L458.5,346 L458.5,355.6 L451,359.8Z" fill="#8bd653"/><path d="M458.5,346 L466,350.2 L466,359.8 L458.5,355.6Z" fill="#66bd37"/><path d="M406,350.2 L413.5,346 L421,350.2 L428.5,346 L436,350.2 L443.5,346 L451,350.2 L458.5,346 L466,350.2" fill="none" stroke="#4a9a2a" stroke-width="0.7"/><path d="M406,359.8 L413.5,355.6 L413.5,365.2 L406,369.4Z" fill="#8bd653"/><path d="M413.5,355.6 L421,359.8 L421,369.4 L413.5,365.2Z" fill="#66bd37"/><path d="M421,359.8 L428.5,355.6 L428.5,365.2 L421,369.4Z" fill="#8bd653"/><path d="M428.5,355.6 L436,359.8 L436,369.4 L428.5,365.2Z" fill="#66bd37"/><path d="M436,359.8 L443.5,355.6 L443.5,365.2 L436,369.4Z" fill="#8bd653"/><path d="M443.5,355.6 L451,359.8 L451,369.4 L443.5,365.2Z" fill="#66bd37"/><path d="M451,359.8 L458.5,355.6 L458.5,365.2 L451,369.4Z" fill="#8bd653"/><path d="M458.5,355.6 L466,359.8 L466,369.4 L458.5,365.2Z" fill="#66bd37"/><path d="M406,359.8 L413.5,355.6 L421,359.8 L428.5,355.6 L436,359.8 L443.5,355.6 L451,359.8 L458.5,355.6 L466,359.8" fill="none" stroke="#3d8a20" stroke-width="0.9" transform="translate(0,-0.7)"/><path d="M406,359.8 L413.5,355.6 L421,359.8 L428.5,355.6 L436,359.8 L443.5,355.6 L451,359.8 L458.5,355.6 L466,359.8" fill="none" stroke="#ffffff" stroke-width="1.1" transform="translate(0,0.6)"/><path d="M406,369.4 L413.5,365.2 L413.5,374.8 L406,379Z" fill="#8bd653"/><path d="M413.5,365.2 L421,369.4 L421,379 L413.5,374.8Z" fill="#66bd37"/><path d="M421,369.4 L428.5,365.2 L428.5,374.8 L421,379Z" fill="#8bd653"/><path d="M428.5,365.2 L436,369.4 L436,379 L428.5,374.8Z" fill="#66bd37"/><path d="M436,369.4 L443.5,365.2 L443.5,374.8 L436,379Z" fill="#8bd653"/><path d="M443.5,365.2 L451,369.4 L451,379 L443.5,374.8Z" fill="#66bd37"/><path d="M451,369.4 L458.5,365.2 L458.5,374.8 L451,379Z" fill="#8bd653"/><path d="M458.5,365.2 L466,369.4 L466,379 L458.5,374.8Z" fill="#66bd37"/><path d="M406,369.4 L413.5,365.2 L421,369.4 L428.5,365.2 L436,369.4 L443.5,365.2 L451,369.4 L458.5,365.2 L466,369.4" fill="none" stroke="#3d8a20" stroke-width="0.9" transform="translate(0,-0.7)"/><path d="M406,369.4 L413.5,365.2 L421,369.4 L428.5,365.2 L436,369.4 L443.5,365.2 L451,369.4 L458.5,365.2 L466,369.4" fill="none" stroke="#ffffff" stroke-width="1.1" transform="translate(0,0.6)"/><path d="M406,379 L413.5,374.8 L421,379 L428.5,374.8 L436,379 L443.5,374.8 L451,379 L458.5,374.8 L466,379" fill="none" stroke="#3f8a22" stroke-width="0.9"/><path d="M406,350.2 V379 M421,350.2 V379 M436,350.2 V379 M451,350.2 V379 M466,350.2 V379" fill="none" stroke="#3f7f22" stroke-width="0.6"/></g>
<g transform="rotate(4 398 426.4)"><path d="M368,416.2 L375.5,412 L375.5,421.6 L368,425.8Z" fill="#8bd653"/><path d="M375.5,412 L383,416.2 L383,425.8 L375.5,421.6Z" fill="#66bd37"/><path d="M383,416.2 L390.5,412 L390.5,421.6 L383,425.8Z" fill="#8bd653"/><path d="M390.5,412 L398,416.2 L398,425.8 L390.5,421.6Z" fill="#66bd37"/><path d="M398,416.2 L405.5,412 L405.5,421.6 L398,425.8Z" fill="#8bd653"/><path d="M405.5,412 L413,416.2 L413,425.8 L405.5,421.6Z" fill="#66bd37"/><path d="M413,416.2 L420.5,412 L420.5,421.6 L413,425.8Z" fill="#8bd653"/><path d="M420.5,412 L428,416.2 L428,425.8 L420.5,421.6Z" fill="#66bd37"/><path d="M368,416.2 L375.5,412 L383,416.2 L390.5,412 L398,416.2 L405.5,412 L413,416.2 L420.5,412 L428,416.2" fill="none" stroke="#4a9a2a" stroke-width="0.7"/><path d="M368,425.8 L375.5,421.6 L375.5,431.2 L368,435.4Z" fill="#8bd653"/><path d="M375.5,421.6 L383,425.8 L383,435.4 L375.5,431.2Z" fill="#66bd37"/><path d="M383,425.8 L390.5,421.6 L390.5,431.2 L383,435.4Z" fill="#8bd653"/><path d="M390.5,421.6 L398,425.8 L398,435.4 L390.5,431.2Z" fill="#66bd37"/><path d="M398,425.8 L405.5,421.6 L405.5,431.2 L398,435.4Z" fill="#8bd653"/><path d="M405.5,421.6 L413,425.8 L413,435.4 L405.5,431.2Z" fill="#66bd37"/><path d="M413,425.8 L420.5,421.6 L420.5,431.2 L413,435.4Z" fill="#8bd653"/><path d="M420.5,421.6 L428,425.8 L428,435.4 L420.5,431.2Z" fill="#66bd37"/><path d="M368,425.8 L375.5,421.6 L383,425.8 L390.5,421.6 L398,425.8 L405.5,421.6 L413,425.8 L420.5,421.6 L428,425.8" fill="none" stroke="#3d8a20" stroke-width="0.9" transform="translate(0,-0.7)"/><path d="M368,425.8 L375.5,421.6 L383,425.8 L390.5,421.6 L398,425.8 L405.5,421.6 L413,425.8 L420.5,421.6 L428,425.8" fill="none" stroke="#ffffff" stroke-width="1.1" transform="translate(0,0.6)"/><path d="M368,435.4 L375.5,431.2 L375.5,440.8 L368,445Z" fill="#8bd653"/><path d="M375.5,431.2 L383,435.4 L383,445 L375.5,440.8Z" fill="#66bd37"/><path d="M383,435.4 L390.5,431.2 L390.5,440.8 L383,445Z" fill="#8bd653"/><path d="M390.5,431.2 L398,435.4 L398,445 L390.5,440.8Z" fill="#66bd37"/><path d="M398,435.4 L405.5,431.2 L405.5,440.8 L398,445Z" fill="#8bd653"/><path d="M405.5,431.2 L413,435.4 L413,445 L405.5,440.8Z" fill="#66bd37"/><path d="M413,435.4 L420.5,431.2 L420.5,440.8 L413,445Z" fill="#8bd653"/><path d="M420.5,431.2 L428,435.4 L428,445 L420.5,440.8Z" fill="#66bd37"/><path d="M368,435.4 L375.5,431.2 L383,435.4 L390.5,431.2 L398,435.4 L405.5,431.2 L413,435.4 L420.5,431.2 L428,435.4" fill="none" stroke="#3d8a20" stroke-width="0.9" transform="translate(0,-0.7)"/><path d="M368,435.4 L375.5,431.2 L383,435.4 L390.5,431.2 L398,435.4 L405.5,431.2 L413,435.4 L420.5,431.2 L428,435.4" fill="none" stroke="#ffffff" stroke-width="1.1" transform="translate(0,0.6)"/><path d="M368,445 L375.5,440.8 L383,445 L390.5,440.8 L398,445 L405.5,440.8 L413,445 L420.5,440.8 L428,445" fill="none" stroke="#3f8a22" stroke-width="0.9"/><path d="M368,416.2 V445 M383,416.2 V445 M398,416.2 V445 M413,416.2 V445 M428,416.2 V445" fill="none" stroke="#3f7f22" stroke-width="0.6"/></g>
<g transform="rotate(8 498 316.4)"><path d="M468,306.2 L475.5,302 L475.5,311.6 L468,315.8Z" fill="#8bd653"/><path d="M475.5,302 L483,306.2 L483,315.8 L475.5,311.6Z" fill="#66bd37"/><path d="M483,306.2 L490.5,302 L490.5,311.6 L483,315.8Z" fill="#8bd653"/><path d="M490.5,302 L498,306.2 L498,315.8 L490.5,311.6Z" fill="#66bd37"/><path d="M498,306.2 L505.5,302 L505.5,311.6 L498,315.8Z" fill="#8bd653"/><path d="M505.5,302 L513,306.2 L513,315.8 L505.5,311.6Z" fill="#66bd37"/><path d="M513,306.2 L520.5,302 L520.5,311.6 L513,315.8Z" fill="#8bd653"/><path d="M520.5,302 L528,306.2 L528,315.8 L520.5,311.6Z" fill="#66bd37"/><path d="M468,306.2 L475.5,302 L483,306.2 L490.5,302 L498,306.2 L505.5,302 L513,306.2 L520.5,302 L528,306.2" fill="none" stroke="#4a9a2a" stroke-width="0.7"/><path d="M468,315.8 L475.5,311.6 L475.5,321.2 L468,325.4Z" fill="#8bd653"/><path d="M475.5,311.6 L483,315.8 L483,325.4 L475.5,321.2Z" fill="#66bd37"/><path d="M483,315.8 L490.5,311.6 L490.5,321.2 L483,325.4Z" fill="#8bd653"/><path d="M490.5,311.6 L498,315.8 L498,325.4 L490.5,321.2Z" fill="#66bd37"/><path d="M498,315.8 L505.5,311.6 L505.5,321.2 L498,325.4Z" fill="#8bd653"/><path d="M505.5,311.6 L513,315.8 L513,325.4 L505.5,321.2Z" fill="#66bd37"/><path d="M513,315.8 L520.5,311.6 L520.5,321.2 L513,325.4Z" fill="#8bd653"/><path d="M520.5,311.6 L528,315.8 L528,325.4 L520.5,321.2Z" fill="#66bd37"/><path d="M468,315.8 L475.5,311.6 L483,315.8 L490.5,311.6 L498,315.8 L505.5,311.6 L513,315.8 L520.5,311.6 L528,315.8" fill="none" stroke="#3d8a20" stroke-width="0.9" transform="translate(0,-0.7)"/><path d="M468,315.8 L475.5,311.6 L483,315.8 L490.5,311.6 L498,315.8 L505.5,311.6 L513,315.8 L520.5,311.6 L528,315.8" fill="none" stroke="#ffffff" stroke-width="1.1" transform="translate(0,0.6)"/><path d="M468,325.4 L475.5,321.2 L475.5,330.8 L468,335Z" fill="#8bd653"/><path d="M475.5,321.2 L483,325.4 L483,335 L475.5,330.8Z" fill="#66bd37"/><path d="M483,325.4 L490.5,321.2 L490.5,330.8 L483,335Z" fill="#8bd653"/><path d="M490.5,321.2 L498,325.4 L498,335 L490.5,330.8Z" fill="#66bd37"/><path d="M498,325.4 L505.5,321.2 L505.5,330.8 L498,335Z" fill="#8bd653"/><path d="M505.5,321.2 L513,325.4 L513,335 L505.5,330.8Z" fill="#66bd37"/><path d="M513,325.4 L520.5,321.2 L520.5,330.8 L513,335Z" fill="#8bd653"/><path d="M520.5,321.2 L528,325.4 L528,335 L520.5,330.8Z" fill="#66bd37"/><path d="M468,325.4 L475.5,321.2 L483,325.4 L490.5,321.2 L498,325.4 L505.5,321.2 L513,325.4 L520.5,321.2 L528,325.4" fill="none" stroke="#3d8a20" stroke-width="0.9" transform="translate(0,-0.7)"/><path d="M468,325.4 L475.5,321.2 L483,325.4 L490.5,321.2 L498,325.4 L505.5,321.2 L513,325.4 L520.5,321.2 L528,325.4" fill="none" stroke="#ffffff" stroke-width="1.1" transform="translate(0,0.6)"/><path d="M468,335 L475.5,330.8 L483,335 L490.5,330.8 L498,335 L505.5,330.8 L513,335 L520.5,330.8 L528,335" fill="none" stroke="#3f8a22" stroke-width="0.9"/><path d="M468,306.2 V335 M483,306.2 V335 M498,306.2 V335 M513,306.2 V335 M528,306.2 V335" fill="none" stroke="#3f7f22" stroke-width="0.6"/></g>
<g transform="rotate(3 587 304.4)"><path d="M557,294.2 L564.5,290 L564.5,299.6 L557,303.8Z" fill="#8bd653"/><path d="M564.5,290 L572,294.2 L572,303.8 L564.5,299.6Z" fill="#66bd37"/><path d="M572,294.2 L579.5,290 L579.5,299.6 L572,303.8Z" fill="#8bd653"/><path d="M579.5,290 L587,294.2 L587,303.8 L579.5,299.6Z" fill="#66bd37"/><path d="M587,294.2 L594.5,290 L594.5,299.6 L587,303.8Z" fill="#8bd653"/><path d="M594.5,290 L602,294.2 L602,303.8 L594.5,299.6Z" fill="#66bd37"/><path d="M602,294.2 L609.5,290 L609.5,299.6 L602,303.8Z" fill="#8bd653"/><path d="M609.5,290 L617,294.2 L617,303.8 L609.5,299.6Z" fill="#66bd37"/><path d="M557,294.2 L564.5,290 L572,294.2 L579.5,290 L587,294.2 L594.5,290 L602,294.2 L609.5,290 L617,294.2" fill="none" stroke="#4a9a2a" stroke-width="0.7"/><path d="M557,303.8 L564.5,299.6 L564.5,309.2 L557,313.4Z" fill="#8bd653"/><path d="M564.5,299.6 L572,303.8 L572,313.4 L564.5,309.2Z" fill="#66bd37"/><path d="M572,303.8 L579.5,299.6 L579.5,309.2 L572,313.4Z" fill="#8bd653"/><path d="M579.5,299.6 L587,303.8 L587,313.4 L579.5,309.2Z" fill="#66bd37"/><path d="M587,303.8 L594.5,299.6 L594.5,309.2 L587,313.4Z" fill="#8bd653"/><path d="M594.5,299.6 L602,303.8 L602,313.4 L594.5,309.2Z" fill="#66bd37"/><path d="M602,303.8 L609.5,299.6 L609.5,309.2 L602,313.4Z" fill="#8bd653"/><path d="M609.5,299.6 L617,303.8 L617,313.4 L609.5,309.2Z" fill="#66bd37"/><path d="M557,303.8 L564.5,299.6 L572,303.8 L579.5,299.6 L587,303.8 L594.5,299.6 L602,303.8 L609.5,299.6 L617,303.8" fill="none" stroke="#3d8a20" stroke-width="0.9" transform="translate(0,-0.7)"/><path d="M557,303.8 L564.5,299.6 L572,303.8 L579.5,299.6 L587,303.8 L594.5,299.6 L602,303.8 L609.5,299.6 L617,303.8" fill="none" stroke="#ffffff" stroke-width="1.1" transform="translate(0,0.6)"/><path d="M557,313.4 L564.5,309.2 L564.5,318.8 L557,323Z" fill="#8bd653"/><path d="M564.5,309.2 L572,313.4 L572,323 L564.5,318.8Z" fill="#66bd37"/><path d="M572,313.4 L579.5,309.2 L579.5,318.8 L572,323Z" fill="#8bd653"/><path d="M579.5,309.2 L587,313.4 L587,323 L579.5,318.8Z" fill="#66bd37"/><path d="M587,313.4 L594.5,309.2 L594.5,318.8 L587,323Z" fill="#8bd653"/><path d="M594.5,309.2 L602,313.4 L602,323 L594.5,318.8Z" fill="#66bd37"/><path d="M602,313.4 L609.5,309.2 L609.5,318.8 L602,323Z" fill="#8bd653"/><path d="M609.5,309.2 L617,313.4 L617,323 L609.5,318.8Z" fill="#66bd37"/><path d="M557,313.4 L564.5,309.2 L572,313.4 L579.5,309.2 L587,313.4 L594.5,309.2 L602,313.4 L609.5,309.2 L617,313.4" fill="none" stroke="#3d8a20" stroke-width="0.9" transform="translate(0,-0.7)"/><path d="M557,313.4 L564.5,309.2 L572,313.4 L579.5,309.2 L587,313.4 L594.5,309.2 L602,313.4 L609.5,309.2 L617,313.4" fill="none" stroke="#ffffff" stroke-width="1.1" transform="translate(0,0.6)"/><path d="M557,323 L564.5,318.8 L572,323 L579.5,318.8 L587,323 L594.5,318.8 L602,323 L609.5,318.8 L617,323" fill="none" stroke="#3f8a22" stroke-width="0.9"/><path d="M557,294.2 V323 M572,294.2 V323 M587,294.2 V323 M602,294.2 V323 M617,294.2 V323" fill="none" stroke="#3f7f22" stroke-width="0.6"/></g>
<g transform="rotate(-3 567 365.4)"><path d="M537,355.2 L544.5,351 L544.5,360.6 L537,364.8Z" fill="#8bd653"/><path d="M544.5,351 L552,355.2 L552,364.8 L544.5,360.6Z" fill="#66bd37"/><path d="M552,355.2 L559.5,351 L559.5,360.6 L552,364.8Z" fill="#8bd653"/><path d="M559.5,351 L567,355.2 L567,364.8 L559.5,360.6Z" fill="#66bd37"/><path d="M567,355.2 L574.5,351 L574.5,360.6 L567,364.8Z" fill="#8bd653"/><path d="M574.5,351 L582,355.2 L582,364.8 L574.5,360.6Z" fill="#66bd37"/><path d="M582,355.2 L589.5,351 L589.5,360.6 L582,364.8Z" fill="#8bd653"/><path d="M589.5,351 L597,355.2 L597,364.8 L589.5,360.6Z" fill="#66bd37"/><path d="M537,355.2 L544.5,351 L552,355.2 L559.5,351 L567,355.2 L574.5,351 L582,355.2 L589.5,351 L597,355.2" fill="none" stroke="#4a9a2a" stroke-width="0.7"/><path d="M537,364.8 L544.5,360.6 L544.5,370.2 L537,374.4Z" fill="#8bd653"/><path d="M544.5,360.6 L552,364.8 L552,374.4 L544.5,370.2Z" fill="#66bd37"/><path d="M552,364.8 L559.5,360.6 L559.5,370.2 L552,374.4Z" fill="#8bd653"/><path d="M559.5,360.6 L567,364.8 L567,374.4 L559.5,370.2Z" fill="#66bd37"/><path d="M567,364.8 L574.5,360.6 L574.5,370.2 L567,374.4Z" fill="#8bd653"/><path d="M574.5,360.6 L582,364.8 L582,374.4 L574.5,370.2Z" fill="#66bd37"/><path d="M582,364.8 L589.5,360.6 L589.5,370.2 L582,374.4Z" fill="#8bd653"/><path d="M589.5,360.6 L597,364.8 L597,374.4 L589.5,370.2Z" fill="#66bd37"/><path d="M537,364.8 L544.5,360.6 L552,364.8 L559.5,360.6 L567,364.8 L574.5,360.6 L582,364.8 L589.5,360.6 L597,364.8" fill="none" stroke="#3d8a20" stroke-width="0.9" transform="translate(0,-0.7)"/><path d="M537,364.8 L544.5,360.6 L552,364.8 L559.5,360.6 L567,364.8 L574.5,360.6 L582,364.8 L589.5,360.6 L597,364.8" fill="none" stroke="#ffffff" stroke-width="1.1" transform="translate(0,0.6)"/><path d="M537,374.4 L544.5,370.2 L544.5,379.8 L537,384Z" fill="#8bd653"/><path d="M544.5,370.2 L552,374.4 L552,384 L544.5,379.8Z" fill="#66bd37"/><path d="M552,374.4 L559.5,370.2 L559.5,379.8 L552,384Z" fill="#8bd653"/><path d="M559.5,370.2 L567,374.4 L567,384 L559.5,379.8Z" fill="#66bd37"/><path d="M567,374.4 L574.5,370.2 L574.5,379.8 L567,384Z" fill="#8bd653"/><path d="M574.5,370.2 L582,374.4 L582,384 L574.5,379.8Z" fill="#66bd37"/><path d="M582,374.4 L589.5,370.2 L589.5,379.8 L582,384Z" fill="#8bd653"/><path d="M589.5,370.2 L597,374.4 L597,384 L589.5,379.8Z" fill="#66bd37"/><path d="M537,374.4 L544.5,370.2 L552,374.4 L559.5,370.2 L567,374.4 L574.5,370.2 L582,374.4 L589.5,370.2 L597,374.4" fill="none" stroke="#3d8a20" stroke-width="0.9" transform="translate(0,-0.7)"/><path d="M537,374.4 L544.5,370.2 L552,374.4 L559.5,370.2 L567,374.4 L574.5,370.2 L582,374.4 L589.5,370.2 L597,374.4" fill="none" stroke="#ffffff" stroke-width="1.1" transform="translate(0,0.6)"/><path d="M537,384 L544.5,379.8 L552,384 L559.5,379.8 L567,384 L574.5,379.8 L582,384 L589.5,379.8 L597,384" fill="none" stroke="#3f8a22" stroke-width="0.9"/><path d="M537,355.2 V384 M552,355.2 V384 M567,355.2 V384 M582,355.2 V384 M597,355.2 V384" fill="none" stroke="#3f7f22" stroke-width="0.6"/></g>
<g transform="rotate(10 493 414.4)"><path d="M463,404.2 L470.5,400 L470.5,409.6 L463,413.8Z" fill="#8bd653"/><path d="M470.5,400 L478,404.2 L478,413.8 L470.5,409.6Z" fill="#66bd37"/><path d="M478,404.2 L485.5,400 L485.5,409.6 L478,413.8Z" fill="#8bd653"/><path d="M485.5,400 L493,404.2 L493,413.8 L485.5,409.6Z" fill="#66bd37"/><path d="M493,404.2 L500.5,400 L500.5,409.6 L493,413.8Z" fill="#8bd653"/><path d="M500.5,400 L508,404.2 L508,413.8 L500.5,409.6Z" fill="#66bd37"/><path d="M508,404.2 L515.5,400 L515.5,409.6 L508,413.8Z" fill="#8bd653"/><path d="M515.5,400 L523,404.2 L523,413.8 L515.5,409.6Z" fill="#66bd37"/><path d="M463,404.2 L470.5,400 L478,404.2 L485.5,400 L493,404.2 L500.5,400 L508,404.2 L515.5,400 L523,404.2" fill="none" stroke="#4a9a2a" stroke-width="0.7"/><path d="M463,413.8 L470.5,409.6 L470.5,419.2 L463,423.4Z" fill="#8bd653"/><path d="M470.5,409.6 L478,413.8 L478,423.4 L470.5,419.2Z" fill="#66bd37"/><path d="M478,413.8 L485.5,409.6 L485.5,419.2 L478,423.4Z" fill="#8bd653"/><path d="M485.5,409.6 L493,413.8 L493,423.4 L485.5,419.2Z" fill="#66bd37"/><path d="M493,413.8 L500.5,409.6 L500.5,419.2 L493,423.4Z" fill="#8bd653"/><path d="M500.5,409.6 L508,413.8 L508,423.4 L500.5,419.2Z" fill="#66bd37"/><path d="M508,413.8 L515.5,409.6 L515.5,419.2 L508,423.4Z" fill="#8bd653"/><path d="M515.5,409.6 L523,413.8 L523,423.4 L515.5,419.2Z" fill="#66bd37"/><path d="M463,413.8 L470.5,409.6 L478,413.8 L485.5,409.6 L493,413.8 L500.5,409.6 L508,413.8 L515.5,409.6 L523,413.8" fill="none" stroke="#3d8a20" stroke-width="0.9" transform="translate(0,-0.7)"/><path d="M463,413.8 L470.5,409.6 L478,413.8 L485.5,409.6 L493,413.8 L500.5,409.6 L508,413.8 L515.5,409.6 L523,413.8" fill="none" stroke="#ffffff" stroke-width="1.1" transform="translate(0,0.6)"/><path d="M463,423.4 L470.5,419.2 L470.5,428.8 L463,433Z" fill="#8bd653"/><path d="M470.5,419.2 L478,423.4 L478,433 L470.5,428.8Z" fill="#66bd37"/><path d="M478,423.4 L485.5,419.2 L485.5,428.8 L478,433Z" fill="#8bd653"/><path d="M485.5,419.2 L493,423.4 L493,433 L485.5,428.8Z" fill="#66bd37"/><path d="M493,423.4 L500.5,419.2 L500.5,428.8 L493,433Z" fill="#8bd653"/><path d="M500.5,419.2 L508,423.4 L508,433 L500.5,428.8Z" fill="#66bd37"/><path d="M508,423.4 L515.5,419.2 L515.5,428.8 L508,433Z" fill="#8bd653"/><path d="M515.5,419.2 L523,423.4 L523,433 L515.5,428.8Z" fill="#66bd37"/><path d="M463,423.4 L470.5,419.2 L478,423.4 L485.5,419.2 L493,423.4 L500.5,419.2 L508,423.4 L515.5,419.2 L523,423.4" fill="none" stroke="#3d8a20" stroke-width="0.9" transform="translate(0,-0.7)"/><path d="M463,423.4 L470.5,419.2 L478,423.4 L485.5,419.2 L493,423.4 L500.5,419.2 L508,423.4 L515.5,419.2 L523,423.4" fill="none" stroke="#ffffff" stroke-width="1.1" transform="translate(0,0.6)"/><path d="M463,433 L470.5,428.8 L478,433 L485.5,428.8 L493,433 L500.5,428.8 L508,433 L515.5,428.8 L523,433" fill="none" stroke="#3f8a22" stroke-width="0.9"/><path d="M463,404.2 V433 M478,404.2 V433 M493,404.2 V433 M508,404.2 V433 M523,404.2 V433" fill="none" stroke="#3f7f22" stroke-width="0.6"/></g>
<g transform="rotate(5 583 429.4)"><path d="M553,419.2 L560.5,415 L560.5,424.6 L553,428.8Z" fill="#8bd653"/><path d="M560.5,415 L568,419.2 L568,428.8 L560.5,424.6Z" fill="#66bd37"/><path d="M568,419.2 L575.5,415 L575.5,424.6 L568,428.8Z" fill="#8bd653"/><path d="M575.5,415 L583,419.2 L583,428.8 L575.5,424.6Z" fill="#66bd37"/><path d="M583,419.2 L590.5,415 L590.5,424.6 L583,428.8Z" fill="#8bd653"/><path d="M590.5,415 L598,419.2 L598,428.8 L590.5,424.6Z" fill="#66bd37"/><path d="M598,419.2 L605.5,415 L605.5,424.6 L598,428.8Z" fill="#8bd653"/><path d="M605.5,415 L613,419.2 L613,428.8 L605.5,424.6Z" fill="#66bd37"/><path d="M553,419.2 L560.5,415 L568,419.2 L575.5,415 L583,419.2 L590.5,415 L598,419.2 L605.5,415 L613,419.2" fill="none" stroke="#4a9a2a" stroke-width="0.7"/><path d="M553,428.8 L560.5,424.6 L560.5,434.2 L553,438.4Z" fill="#8bd653"/><path d="M560.5,424.6 L568,428.8 L568,438.4 L560.5,434.2Z" fill="#66bd37"/><path d="M568,428.8 L575.5,424.6 L575.5,434.2 L568,438.4Z" fill="#8bd653"/><path d="M575.5,424.6 L583,428.8 L583,438.4 L575.5,434.2Z" fill="#66bd37"/><path d="M583,428.8 L590.5,424.6 L590.5,434.2 L583,438.4Z" fill="#8bd653"/><path d="M590.5,424.6 L598,428.8 L598,438.4 L590.5,434.2Z" fill="#66bd37"/><path d="M598,428.8 L605.5,424.6 L605.5,434.2 L598,438.4Z" fill="#8bd653"/><path d="M605.5,424.6 L613,428.8 L613,438.4 L605.5,434.2Z" fill="#66bd37"/><path d="M553,428.8 L560.5,424.6 L568,428.8 L575.5,424.6 L583,428.8 L590.5,424.6 L598,428.8 L605.5,424.6 L613,428.8" fill="none" stroke="#3d8a20" stroke-width="0.9" transform="translate(0,-0.7)"/><path d="M553,428.8 L560.5,424.6 L568,428.8 L575.5,424.6 L583,428.8 L590.5,424.6 L598,428.8 L605.5,424.6 L613,428.8" fill="none" stroke="#ffffff" stroke-width="1.1" transform="translate(0,0.6)"/><path d="M553,438.4 L560.5,434.2 L560.5,443.8 L553,448Z" fill="#8bd653"/><path d="M560.5,434.2 L568,438.4 L568,448 L560.5,443.8Z" fill="#66bd37"/><path d="M568,438.4 L575.5,434.2 L575.5,443.8 L568,448Z" fill="#8bd653"/><path d="M575.5,434.2 L583,438.4 L583,448 L575.5,443.8Z" fill="#66bd37"/><path d="M583,438.4 L590.5,434.2 L590.5,443.8 L583,448Z" fill="#8bd653"/><path d="M590.5,434.2 L598,438.4 L598,448 L590.5,443.8Z" fill="#66bd37"/><path d="M598,438.4 L605.5,434.2 L605.5,443.8 L598,448Z" fill="#8bd653"/><path d="M605.5,434.2 L613,438.4 L613,448 L605.5,443.8Z" fill="#66bd37"/><path d="M553,438.4 L560.5,434.2 L568,438.4 L575.5,434.2 L583,438.4 L590.5,434.2 L598,438.4 L605.5,434.2 L613,438.4" fill="none" stroke="#3d8a20" stroke-width="0.9" transform="translate(0,-0.7)"/><path d="M553,438.4 L560.5,434.2 L568,438.4 L575.5,434.2 L583,438.4 L590.5,434.2 L598,438.4 L605.5,434.2 L613,438.4" fill="none" stroke="#ffffff" stroke-width="1.1" transform="translate(0,0.6)"/><path d="M553,448 L560.5,443.8 L568,448 L575.5,443.8 L583,448 L590.5,443.8 L598,448 L605.5,443.8 L613,448" fill="none" stroke="#3f8a22" stroke-width="0.9"/><path d="M553,419.2 V448 M568,419.2 V448 M583,419.2 V448 M598,419.2 V448 M613,419.2 V448" fill="none" stroke="#3f7f22" stroke-width="0.6"/></g>
<line x1="419.3" y1="296" x2="419.3" y2="276" stroke="#2a1a18" stroke-width="1.2"/><path d="M416.6,277.5 L419.3,270.5 L422,277.5Z" fill="#2a1a18"/>
<line x1="473.5" y1="437" x2="473.5" y2="458" stroke="#2a1a18" stroke-width="1.2"/><path d="M470.8,456.5 L473.5,463.8 L476.2,456.5Z" fill="#2a1a18"/>
<text x="438.3" y="260.5" font-size="13.6" fill="#2c1a16" font-weight="bold" font-style="normal" text-anchor="middle" >Crystalline &#946;-sheet</text>
<text x="479.1" y="476.8" font-size="13.8" fill="#2c1a16" font-weight="bold" font-style="normal" text-anchor="middle" >Amorphous chains</text>
<defs>
<linearGradient id="slabtop" x1="0" y1="0" x2="1" y2="1">
<stop offset="0" stop-color="#84dfe4"/><stop offset="0.5" stop-color="#8be3e7"/><stop offset="1" stop-color="#80dce2"/></linearGradient>
<linearGradient id="slabside" x1="0" y1="0" x2="1" y2="0">
<stop offset="0" stop-color="#78d9df"/><stop offset="1" stop-color="#68d0d8"/></linearGradient>
<filter id="blur1"><feGaussianBlur stdDeviation="1.6"/></filter>
</defs>
<path d="M684,279 C700,270 735,250 752,242.5 Q757,240.5 762,243 L879,288.5 Q886,291.5 882.5,298 L880.5,305 C860,330 840,355 826,375.5 Q822,380 816,376 L688,298.5 Q684,296 684,290 Z" fill="url(#slabside)"/>
<path d="M684,279 C700,270 735,250 752,242.5 Q757,240.5 762,243 L879,288.5 Q886,291.5 882.5,298 C860,322 838,348 821,366 L688,284 Q683.5,281.5 684,279 Z" fill="url(#slabtop)"/>
<g filter="url(#blur1)" opacity="0.55"><path d="M700,270 C720,262 740,255 760,250" stroke="#d8f6fa" stroke-width="2.5" fill="none"/><path d="M780,330 C800,338 812,348 822,352" stroke="#c6f0f5" stroke-width="2" fill="none"/><path d="M700,292 C730,310 760,330 790,352" stroke="#a8e6ee" stroke-width="1.6" fill="none"/><path d="M850,290 C860,296 868,300 876,302" stroke="#d0f4f8" stroke-width="2" fill="none"/></g>
<path d="M690.2,279.6 C691.9,280.1 696.7,282.5 700.4,282.5 C704.1,282.5 708.6,280 712.3,279.6 C716,279.2 720,279.3 722.4,280.4 C724.8,281.5 726.8,284.4 726.7,286.4 C726.6,288.4 724,290.9 721.6,292.3 C719.2,293.7 714.4,293.5 712.3,294.9 C710.2,296.3 708.6,298.4 708.9,300.8 C709.2,303.2 711.5,306.9 714,309.3 C716.5,311.7 720.4,313.6 724.1,315.2 C727.8,316.8 734,318 736,318.6 M714.8,266.9 C715.5,267.9 716.6,271.5 719,272.8 C721.4,274.1 725.8,274.9 729.2,274.5 C732.6,274.1 737.3,272.1 739.4,270.3 C741.5,268.5 742.9,265.2 742,263.5 C741.1,261.8 737,260.5 734.3,260.1 C731.6,259.7 727.8,259.8 725.8,260.9 C723.8,262 722.1,265 722.4,266.9 C722.7,268.8 725,271 727.5,272 C730,273 734.9,272 737.7,272.8 C740.5,273.6 743.1,274.9 744.5,277 C745.9,279.1 744.8,283.4 746.2,285.5 C747.6,287.6 749.6,288.9 753,289.8 C756.4,290.7 762.6,290.8 766.6,290.6 C770.6,290.5 775.1,289.2 776.8,288.9 M745.4,250.7 C747,251.1 752.3,251.5 754.7,253.3 C757.1,255.2 759.5,259 759.8,261.8 C760.1,264.6 756.7,267.9 756.4,270.3 C756.1,272.7 756.1,274.8 758.1,276.2 C760.1,277.6 764,278.1 768.3,278.7 C772.5,279.3 781,279.5 783.6,279.6 M749.6,259.2 C750.5,258.3 751.6,255.1 754.7,254.1 C757.8,253.1 763.5,253.6 768.3,253.3 C773.1,253 781,252.5 783.6,252.3 M736,295.7 C737.4,295.4 741.7,293.9 744.5,294 C747.3,294.1 750.5,295.6 753,296.6 C755.5,297.6 759.1,298.4 759.8,300 C760.5,301.6 759,304.6 757.3,305.9 C755.6,307.2 751.7,307.9 749.6,307.6 C747.5,307.3 744.8,305.6 744.5,304.2 C744.2,302.8 746.2,300.2 747.9,299.1 C749.6,298 752.9,297.7 754.7,297.4 C756.5,297.1 758.2,297.4 758.9,297.4 M720,311.8 C721.9,312.7 728.2,317 731.2,317.3 C734.2,317.6 736.8,315.8 737.7,313.6 C738.6,311.4 736,307.4 736.8,304.3 C737.6,301.2 741.5,296.6 742.4,295 M797.3,271.5 C798.1,270.7 800.2,267.3 802.3,266.6 C804.4,265.9 808.1,266 809.8,267.4 C811.5,268.8 812.6,273.1 812.3,274.9 C812,276.7 809.5,278.2 808.1,278.2 C806.7,278.2 803.7,276.3 804,274.9 C804.3,273.5 806.6,271 809.8,269.9 C813,268.8 820.8,268.5 823,268.2 M814.8,293.1 C816.4,292.7 821.7,292.1 824.7,290.6 C827.7,289.1 830,285.6 833,284 C836,282.4 839,280.6 842.9,280.7 C846.8,280.8 851.8,282.7 856.2,284.8 C860.6,286.9 866.2,289.4 869.5,293.1 C872.8,296.8 875,304.9 876.1,307.2 M831.3,286.5 C831,288.4 828.9,294.8 829.7,298.1 C830.5,301.4 833.3,305.3 836.3,306.4 C839.3,307.5 844.9,305.8 847.9,304.7 C850.9,303.6 852.6,301.3 854.5,299.7 C856.4,298.1 855.9,295.9 859.5,294.8 C863.1,293.7 873.3,293.4 876.1,293.1 M806.5,299.7 C808.1,300.2 812.5,301.9 816.4,303 C820.3,304.1 825.3,305.6 829.7,306.4 C834.1,307.2 838.5,307.4 842.9,308 C847.3,308.6 852.9,308.4 856.2,309.7 C859.5,310.9 862.8,313.9 862.8,315.5 C862.8,317.1 857.9,319.5 856.2,319.6 C854.6,319.7 852.4,317.7 852.9,316.3 C853.4,314.9 856.7,311.9 859.5,311.3 C862.3,310.8 867.8,312.7 869.5,313 M789.8,312.7 C790.6,314.4 792.8,319.6 794.5,322.9 C796.2,326.2 797.9,329.8 800.1,332.3 C802.3,334.8 804.7,336.7 807.5,337.8 C810.3,338.9 814.1,339.7 816.9,338.8 C819.7,337.9 821.8,334.6 824.3,332.3 C826.8,330 829,325.6 831.8,324.8 C834.6,324 838.6,326.4 841.1,327.6 C843.6,328.9 846.7,330.6 846.7,332.3 C846.7,334 843,336 841.1,337.8 C839.2,339.6 836.6,341.2 835.5,343.4 C834.4,345.6 835.4,348.7 834.5,350.9 C833.6,353.1 832.5,355.9 829.9,356.5 C827.3,357.1 823.4,355.9 818.7,354.6 C814.1,353.4 807,350.6 802,349 C797,347.4 792.3,346.9 788.9,345.3 C785.5,343.8 782.4,342.3 781.5,339.7 C780.6,337.1 781.8,331.1 783.3,329.5 C784.8,327.9 789.5,328.7 790.8,330.4 C792,332.1 791.4,336.9 790.8,339.7 C790.2,342.5 787.3,344.7 787,347.2 C786.7,349.7 787,352.1 788.9,354.6 C790.8,357.1 795.6,360.1 798.2,362 C800.8,363.9 803.6,365.2 804.7,365.8 M800.1,304.3 C801.6,304.9 807.2,306.6 809.4,308 C811.6,309.4 813.4,311.4 813.1,312.7 C812.8,313.9 808.9,313.8 807.5,315.5 C806.1,317.2 804.1,320.9 804.7,322.9 C805.3,324.9 809.3,327.3 811.3,327.6 C813.3,327.9 815.7,326.5 816.9,324.8 C818.1,323.1 817.5,319.2 818.7,317.3 C819.9,315.4 821.5,313.6 824.3,313.6 C827.1,313.6 832.4,315.4 835.5,317.3 C838.6,319.2 840.4,322.6 842.9,324.8 C845.4,327 848.7,327.9 850.4,330.4 C852.1,332.9 853.2,337.2 853.2,339.7 C853.2,342.2 850.9,344.4 850.4,345.3" fill="none" stroke="#0e76cc" stroke-width="1.85" stroke-linecap="round" stroke-linejoin="round"/>
<g transform="translate(783.6,279.6) rotate(23.3)"><rect x="6" y="-1.9000000000000001" width="22.8" height="3.8000000000000003" fill="#1c1ca8"/><rect x="0" y="-2.2" width="7" height="4.4" rx="2.2" fill="#efe02c" stroke="#b8a416" stroke-width="0.4"/><rect x="27.8" y="-2.2" width="7" height="4.4" rx="2.2" fill="#efe02c" stroke="#b8a416" stroke-width="0.4"/><rect x="1.2" y="-1.5000000000000002" width="4.6" height="1.2" rx="0.6" fill="#fffbb0"/><rect x="29" y="-1.5000000000000002" width="4.6" height="1.2" rx="0.6" fill="#fffbb0"/></g>
<g transform="translate(775.1,285.5) rotate(23.8)"><rect x="6" y="-1.9000000000000001" width="23.2" height="3.8000000000000003" fill="#e82222"/><rect x="0" y="-2.2" width="7" height="4.4" rx="2.2" fill="#efe02c" stroke="#b8a416" stroke-width="0.4"/><rect x="28.2" y="-2.2" width="7" height="4.4" rx="2.2" fill="#efe02c" stroke="#b8a416" stroke-width="0.4"/><rect x="1.2" y="-1.5000000000000002" width="4.6" height="1.2" rx="0.6" fill="#fffbb0"/><rect x="29.4" y="-1.5000000000000002" width="4.6" height="1.2" rx="0.6" fill="#fffbb0"/></g>
<g transform="translate(768.3,291.5) rotate(24.5)"><rect x="6" y="-1.9000000000000001" width="21.7" height="3.8000000000000003" fill="#1c1ca8"/><rect x="0" y="-2.2" width="7" height="4.4" rx="2.2" fill="#efe02c" stroke="#b8a416" stroke-width="0.4"/><rect x="26.7" y="-2.2" width="7" height="4.4" rx="2.2" fill="#efe02c" stroke="#b8a416" stroke-width="0.4"/><rect x="1.2" y="-1.5000000000000002" width="4.6" height="1.2" rx="0.6" fill="#fffbb0"/><rect x="27.9" y="-1.5000000000000002" width="4.6" height="1.2" rx="0.6" fill="#fffbb0"/></g>
<g transform="translate(758.9,297.4) rotate(25.7)"><rect x="6" y="-1.9000000000000001" width="23.3" height="3.8000000000000003" fill="#e82222"/><rect x="0" y="-2.2" width="7" height="4.4" rx="2.2" fill="#efe02c" stroke="#b8a416" stroke-width="0.4"/><rect x="28.3" y="-2.2" width="7" height="4.4" rx="2.2" fill="#efe02c" stroke="#b8a416" stroke-width="0.4"/><rect x="1.2" y="-1.5000000000000002" width="4.6" height="1.2" rx="0.6" fill="#fffbb0"/><rect x="29.5" y="-1.5000000000000002" width="4.6" height="1.2" rx="0.6" fill="#fffbb0"/></g>
<path d="M945,278 C965,266 995,250 1014,243 Q1020,240.5 1026,244 C1050,258 1075,270 1100,279 C1130,289 1160,298 1182,306 Q1192,310 1192,318 L1191.5,323 C1186,338 1172,358 1152,372 C1146,380 1140,390 1135,397 Q1131,401 1126,398 C1100,375 1060,345 1000,318 C980,310 960,304 948,300 Q944,296 945,288 Z" fill="url(#slabside)"/>
<path d="M945,278 C965,266 995,250 1014,243 Q1020,240.5 1026,244 C1050,258 1075,270 1100,279 C1130,289 1160,298 1182,306 Q1192,310 1192,318 C1180,335 1160,358 1135,385 C1100,360 1060,335 1000,305 C980,296 960,290 948,286 Q944,283 945,278 Z" fill="url(#slabtop)"/>
<g filter="url(#blur1)" opacity="0.55"><path d="M960,272 C980,262 1000,255 1020,250" stroke="#d8f6fa" stroke-width="2.5" fill="none"/><path d="M1000,312 C1040,328 1080,350 1110,372" stroke="#b0e8ef" stroke-width="1.8" fill="none"/><path d="M1150,300 C1165,305 1178,310 1186,314" stroke="#d0f4f8" stroke-width="2" fill="none"/><path d="M1170,335 C1165,345 1160,352 1150,360" stroke="#c0eef4" stroke-width="1.6" fill="none"/></g>
<path d="M955.7,276.3 C959.7,277.6 972,281.4 979.4,284.2 C986.8,287 994.3,290.5 1000,293 C1005.7,295.5 1009.2,297.3 1013.7,299.1 C1018.2,300.9 1022,302.2 1027.3,303.7 C1032.6,305.2 1040.2,306.7 1045.5,308.2 C1050.8,309.7 1054.3,310.9 1059.2,312.8 C1064.1,314.7 1069.8,318.1 1075.1,319.6 C1080.4,321.1 1086.1,320.2 1091,321.9 C1095.9,323.6 1099.8,327.5 1104.7,329.8 C1109.6,332.1 1116,333.1 1120.6,335.5 C1125.1,337.9 1127.6,340.1 1132,344 C1136.4,347.9 1142.3,355.3 1147,358.6 C1151.7,361.9 1157.8,363.1 1160,364 M975.4,266.5 C978,267.3 986,269.1 991.2,271.4 C996.5,273.7 1001.6,277.5 1006.9,280.3 C1012.1,283.1 1018.8,286.1 1022.7,288.1 C1026.7,290.1 1029.3,291.7 1030.6,292.4 M1008.9,247.8 C1009.9,249.1 1011.8,253.6 1014.8,255.7 C1017.8,257.8 1022,259 1026.6,260.6 C1031.2,262.2 1039,263.7 1042.3,265.5 C1045.6,267.3 1047.6,270.1 1046.3,271.4 C1045,272.7 1038.8,273.1 1034.5,273.4 C1030.2,273.7 1024,274.1 1020.7,273.4 C1017.4,272.7 1016.1,271.5 1014.8,269.4 C1013.5,267.3 1014.8,263.1 1012.8,260.6 C1010.8,258.2 1005.6,254.7 1003,254.7 C1000.4,254.7 997.4,258.5 997.1,260.6 C996.8,262.7 998,265.4 1001,267.5 C1004,269.6 1009.5,270.9 1014.8,273.4 C1020,275.8 1028.7,280.2 1032.5,282.2 C1036.3,284.2 1036.6,285 1037.4,285.6 M1025,317.3 C1025.8,316.2 1027.3,311.8 1029.6,310.5 C1031.9,309.2 1036.6,308.2 1038.7,309.3 C1040.8,310.4 1042.9,315.4 1042.1,317.3 C1041.3,319.2 1036.8,320.5 1034.1,320.7 C1031.4,320.9 1028.5,319.9 1026.2,318.5 C1023.9,317.1 1021,313.1 1020,312 M1087,333.4 C1088,334.1 1093,336.1 1093.3,337.8 C1093.6,339.5 1090.9,342.6 1088.8,343.5 C1086.7,344.4 1081.9,343.1 1080.8,343.5 C1079.7,343.9 1079.5,344.7 1082,345.8 C1084.5,346.9 1091,350.1 1095.6,350.3 C1100.1,350.5 1105.9,345.9 1109.3,346.9 C1112.7,347.8 1114.6,352.2 1116.1,356 C1117.6,359.8 1117.3,365.5 1118.4,369.7 C1119.5,373.9 1120.6,377.5 1122.9,381.1 C1125.2,384.7 1130.5,389.6 1132,391.3 M1066.5,298.2 C1068.3,298 1072.7,299.5 1077.4,297 C1082.1,294.5 1090.5,284.4 1094.8,283.2 C1099.1,282 1098.7,287.1 1103.5,290 C1108.3,292.9 1116.5,297.4 1123.8,300.6 C1131,303.8 1139.3,306.9 1147,309.3 C1154.7,311.7 1163.8,312.1 1170.1,315 C1176.4,317.9 1182.2,324.8 1184.6,326.7 M1062.9,277.4 C1064.4,277.1 1069.2,275.2 1071.6,275.9 C1074,276.6 1076.9,279.8 1077.4,281.7 C1077.9,283.6 1076.4,287.2 1074.5,287.5 C1072.6,287.8 1066.5,285.1 1065.8,283.2 C1065,281.3 1066.8,277.2 1070,276 C1073.2,274.8 1080.9,274.8 1085,276 C1089.1,277.2 1093.2,282 1094.8,283.2 M1127.3,321.1 C1128.7,322.5 1130.7,328 1135.4,329.6 C1140.1,331.2 1148.5,329.8 1155.7,331 C1162.9,332.2 1175,335.8 1178.8,336.8 M1057.9,305.1 C1059.4,305.6 1063.3,306.9 1067,308 C1070.7,309.1 1076,312.2 1080,312 C1084,311.8 1087.8,307.6 1091,307 C1094.2,306.4 1097.6,308.2 1098.9,308.5 M1048,296 C1049.7,293.7 1055.1,283.8 1058.1,282.2 C1061.1,280.6 1067,284.7 1066,286.2 C1065,287.7 1054.3,290.2 1052,291" fill="none" stroke="#0e76cc" stroke-width="1.85" stroke-linecap="round" stroke-linejoin="round"/>
<g transform="translate(1037.4,285.6) rotate(23.4)"><rect x="6" y="-1.9000000000000001" width="19.7" height="3.8000000000000003" fill="#e82222"/><rect x="0" y="-2.2" width="7" height="4.4" rx="2.2" fill="#efe02c" stroke="#b8a416" stroke-width="0.4"/><rect x="24.7" y="-2.2" width="7" height="4.4" rx="2.2" fill="#efe02c" stroke="#b8a416" stroke-width="0.4"/><rect x="1.2" y="-1.5000000000000002" width="4.6" height="1.2" rx="0.6" fill="#fffbb0"/><rect x="25.9" y="-1.5000000000000002" width="4.6" height="1.2" rx="0.6" fill="#fffbb0"/></g>
<g transform="translate(1030.6,292.4) rotate(24.9)"><rect x="6" y="-1.9000000000000001" width="18.1" height="3.8000000000000003" fill="#1c1ca8"/><rect x="0" y="-2.2" width="7" height="4.4" rx="2.2" fill="#efe02c" stroke="#b8a416" stroke-width="0.4"/><rect x="23.1" y="-2.2" width="7" height="4.4" rx="2.2" fill="#efe02c" stroke="#b8a416" stroke-width="0.4"/><rect x="1.2" y="-1.5000000000000002" width="4.6" height="1.2" rx="0.6" fill="#fffbb0"/><rect x="24.3" y="-1.5000000000000002" width="4.6" height="1.2" rx="0.6" fill="#fffbb0"/></g>
<g transform="translate(1057.9,319.8) rotate(25)"><rect x="6" y="-1.9000000000000001" width="20.1" height="3.8000000000000003" fill="#e82222"/><rect x="0" y="-2.2" width="7" height="4.4" rx="2.2" fill="#efe02c" stroke="#b8a416" stroke-width="0.4"/><rect x="25.1" y="-2.2" width="7" height="4.4" rx="2.2" fill="#efe02c" stroke="#b8a416" stroke-width="0.4"/><rect x="1.2" y="-1.5000000000000002" width="4.6" height="1.2" rx="0.6" fill="#fffbb0"/><rect x="26.3" y="-1.5000000000000002" width="4.6" height="1.2" rx="0.6" fill="#fffbb0"/></g>
<g transform="translate(1098.9,308.5) rotate(23.9)"><rect x="6" y="-1.9000000000000001" width="19.1" height="3.8000000000000003" fill="#1c1ca8"/><rect x="0" y="-2.2" width="7" height="4.4" rx="2.2" fill="#efe02c" stroke="#b8a416" stroke-width="0.4"/><rect x="24.1" y="-2.2" width="7" height="4.4" rx="2.2" fill="#efe02c" stroke="#b8a416" stroke-width="0.4"/><rect x="1.2" y="-1.5000000000000002" width="4.6" height="1.2" rx="0.6" fill="#fffbb0"/><rect x="25.3" y="-1.5000000000000002" width="4.6" height="1.2" rx="0.6" fill="#fffbb0"/></g>
<line x1="719.8" y1="172" x2="736.8" y2="178.6" stroke="#e8141a" stroke-width="1.45" stroke-linecap="round" />
<line x1="735.3" y1="178.6" x2="734.9" y2="195.4" stroke="#e8141a" stroke-width="1.45" stroke-linecap="round" />
<line x1="738.3" y1="178.6" x2="737.9" y2="195.4" stroke="#e8141a" stroke-width="1.45" stroke-linecap="round" />
<line x1="736.8" y1="178.6" x2="757.9" y2="166.9" stroke="#e8141a" stroke-width="1.45" stroke-linecap="round" />
<line x1="757.9" y1="166.9" x2="777.9" y2="178.6" stroke="#e8141a" stroke-width="1.45" stroke-linecap="round" />
<line x1="777.9" y1="178.6" x2="798.4" y2="166.9" stroke="#e8141a" stroke-width="1.45" stroke-linecap="round" />
<line x1="798.4" y1="166.9" x2="819.4" y2="178.6" stroke="#e8141a" stroke-width="1.45" stroke-linecap="round" />
<line x1="819.4" y1="178.6" x2="839.9" y2="166.9" stroke="#e8141a" stroke-width="1.45" stroke-linecap="round" />
<line x1="841.4" y1="166.9" x2="841" y2="151.1" stroke="#e8141a" stroke-width="1.45" stroke-linecap="round" />
<line x1="838.4" y1="166.9" x2="838" y2="151.1" stroke="#e8141a" stroke-width="1.45" stroke-linecap="round" />
<line x1="839.9" y1="166.9" x2="854.9" y2="174.2" stroke="#e8141a" stroke-width="1.45" stroke-linecap="round" />
<line x1="701.5" y1="175.3" x2="708.8" y2="172.3" stroke="#e8141a" stroke-width="1.45" stroke-linecap="round" />
<line x1="866" y1="176.2" x2="874.5" y2="171.5" stroke="#e8141a" stroke-width="1.45" stroke-linecap="round" />
<text x="714.6" y="174.7" font-size="13" fill="#e8141a" font-weight="normal" font-style="normal" text-anchor="middle" stroke="#e8141a" stroke-width="0.55">N</text>
<text x="714.6" y="161.7" font-size="13" fill="#e8141a" font-weight="normal" font-style="normal" text-anchor="middle" stroke="#e8141a" stroke-width="0.55">H</text>
<text x="736.3" y="205.7" font-size="13" fill="#e8141a" font-weight="normal" font-style="normal" text-anchor="middle" stroke="#e8141a" stroke-width="0.55">O</text>
<text x="839.4" y="150.2" font-size="13" fill="#e8141a" font-weight="normal" font-style="normal" text-anchor="middle" stroke="#e8141a" stroke-width="0.55">O</text>
<text x="859.9" y="181.4" font-size="13" fill="#e8141a" font-weight="normal" font-style="normal" text-anchor="middle" stroke="#e8141a" stroke-width="0.55">N</text>
<text x="859.9" y="194.7" font-size="13" fill="#e8141a" font-weight="normal" font-style="normal" text-anchor="middle" stroke="#e8141a" stroke-width="0.55">H</text>
<text x="687.8" y="182" font-size="13" fill="#e8141a" text-anchor="middle" stroke="#e8141a" stroke-width="0.5">H<tspan font-size="8.5" dy="0.5">2</tspan><tspan dy="-0.5">N</tspan></text>
<text x="876.5" y="173.2" font-size="13" fill="#e8141a" text-anchor="start" stroke="#e8141a" stroke-width="0.5">NH<tspan font-size="8.5" dy="0.5">2</tspan></text>
<text x="785.1" y="230" font-size="16.5" fill="#2c1a16" font-weight="bold" font-style="normal" text-anchor="middle" >ADH</text>
<text x="944.4" y="181.6" font-size="17.5" fill="#2c1a16" font-weight="bold" font-style="italic" text-anchor="middle" >and</text>
<line x1="1023.8" y1="150" x2="1038.1" y2="159.5" stroke="#0c28dc" stroke-width="1.45" stroke-linecap="round" />
<line x1="1038.1" y1="159.5" x2="1058.3" y2="147.6" stroke="#0c28dc" stroke-width="1.45" stroke-linecap="round" />
<line x1="1058.3" y1="147.6" x2="1079.8" y2="158.3" stroke="#0c28dc" stroke-width="1.45" stroke-linecap="round" />
<line x1="1079.8" y1="158.3" x2="1101.2" y2="147.1" stroke="#0c28dc" stroke-width="1.45" stroke-linecap="round" />
<line x1="1085" y1="158.9" x2="1098.7" y2="151.8" stroke="#0c28dc" stroke-width="1.45" stroke-linecap="round" />
<line x1="1101.2" y1="147.1" x2="1101.2" y2="129.8" stroke="#0c28dc" stroke-width="1.45" stroke-linecap="round" />
<line x1="1101.2" y1="147.1" x2="1116.2" y2="156.3" stroke="#0c28dc" stroke-width="1.45" stroke-linecap="round" />
<line x1="1121.3" y1="165.5" x2="1121.4" y2="183.3" stroke="#0c28dc" stroke-width="1.45" stroke-linecap="round" />
<line x1="1121.4" y1="183.3" x2="1105.4" y2="192.7" stroke="#0c28dc" stroke-width="1.45" stroke-linecap="round" />
<line x1="1117" y1="182.4" x2="1106.8" y2="188.4" stroke="#0c28dc" stroke-width="1.45" stroke-linecap="round" />
<line x1="1095.6" y1="192.9" x2="1079.8" y2="184.5" stroke="#0c28dc" stroke-width="1.45" stroke-linecap="round" />
<line x1="1079.8" y1="184.5" x2="1079.8" y2="158.3" stroke="#0c28dc" stroke-width="1.45" stroke-linecap="round" />
<line x1="1079.1" y1="183.2" x2="1061.6" y2="192.3" stroke="#0c28dc" stroke-width="1.45" stroke-linecap="round" />
<line x1="1080.5" y1="185.8" x2="1063" y2="194.9" stroke="#0c28dc" stroke-width="1.45" stroke-linecap="round" />
<line x1="1121.4" y1="183.3" x2="1135.5" y2="191.5" stroke="#0c28dc" stroke-width="1.45" stroke-linecap="round" />
<text x="1100.6" y="200.2" font-size="13" fill="#0c28dc" font-weight="normal" font-style="normal" text-anchor="middle" stroke="#0c28dc" stroke-width="0.55">N</text>
<text x="1057.3" y="200.9" font-size="13" fill="#0c28dc" font-weight="normal" font-style="normal" text-anchor="middle" stroke="#0c28dc" stroke-width="0.55">O</text>
<text x="1127" y="164.5" font-size="13" fill="#0c28dc" text-anchor="middle" stroke="#0c28dc" stroke-width="0.5">NH</text>
<text x="1008.4" y="155.8" font-size="13" fill="#0c28dc" text-anchor="middle" stroke="#0c28dc" stroke-width="0.5">HO</text>
<text x="1137.5" y="198.5" font-size="13" fill="#0c28dc" text-anchor="start" stroke="#0c28dc" stroke-width="0.5">NH<tspan font-size="8.5" dy="0.5">2</tspan></text>
<text x="1084.8" y="229.9" font-size="16.3" fill="#2c1a16" text-anchor="middle" font-weight="bold">HO-UPy-NH<tspan font-size="11" dy="0.5">2</tspan></text>
<text x="910.2" y="282" font-size="14" fill="#111" font-weight="bold" font-style="normal" text-anchor="middle" >Stretch</text>
<line x1="886.2" y1="292.5" x2="934" y2="292.5" stroke="#111" stroke-width="1.4"/><path d="M931,289.6 L941.8,292.5 L931,295.4Z" fill="#111"/>
<g transform="rotate(27 699.7 426.8)"><rect x="690.8" y="422.5" width="17.8" height="8.6" rx="4.3" fill="#e0d820" stroke="#a89a10" stroke-width="0.6"/><rect x="693" y="423.5" width="11" height="2.5" rx="1.2" fill="#fff8a0" opacity="0.8"/></g>
<text x="721.7" y="432.2" font-size="13.7" fill="#111" font-weight="bold" font-style="normal" text-anchor="start" >Isocyanate segment</text>
<path d="M689.7,455.4 C691,455.5 695.2,456.1 697.7,456 C700.2,455.9 703.2,454.8 704.5,455.1 C705.8,455.4 706.2,456.8 705.6,457.7 C705,458.6 702.8,459.9 701.1,460.6 C699.4,461.3 697.1,461.7 695.4,461.7 C693.7,461.7 691.8,460.4 690.8,460.6 C689.8,460.8 688.9,462.2 689.7,462.8 C690.5,463.4 693.3,463.9 695.4,464 C697.5,464.1 700.1,463.6 702.2,463.4 C704.3,463.2 706.2,463.6 707.9,462.8 C709.6,462 711.7,459.5 712.5,458.8" fill="none" stroke="#2090e0" stroke-width="0.9"/>
<text x="721.7" y="465.2" font-size="13.7" fill="#111" font-weight="bold" font-style="normal" text-anchor="start" >PEMEG segment</text>
<line x1="936.7" y1="423.9" x2="957" y2="433.2" stroke="#1a1ab8" stroke-width="1.8"/>
<text x="973.7" y="433.9" font-size="13.7" fill="#111" font-weight="bold" font-style="normal" text-anchor="start" >Rigid supramolecular segment</text>
<line x1="934.3" y1="450.6" x2="954.6" y2="459.7" stroke="#e82020" stroke-width="1.8"/>
<text x="973.7" y="463" font-size="13.7" fill="#111" font-weight="bold" font-style="normal" text-anchor="start" >Flexible supramolecular segment</text>
</svg></body></html>
